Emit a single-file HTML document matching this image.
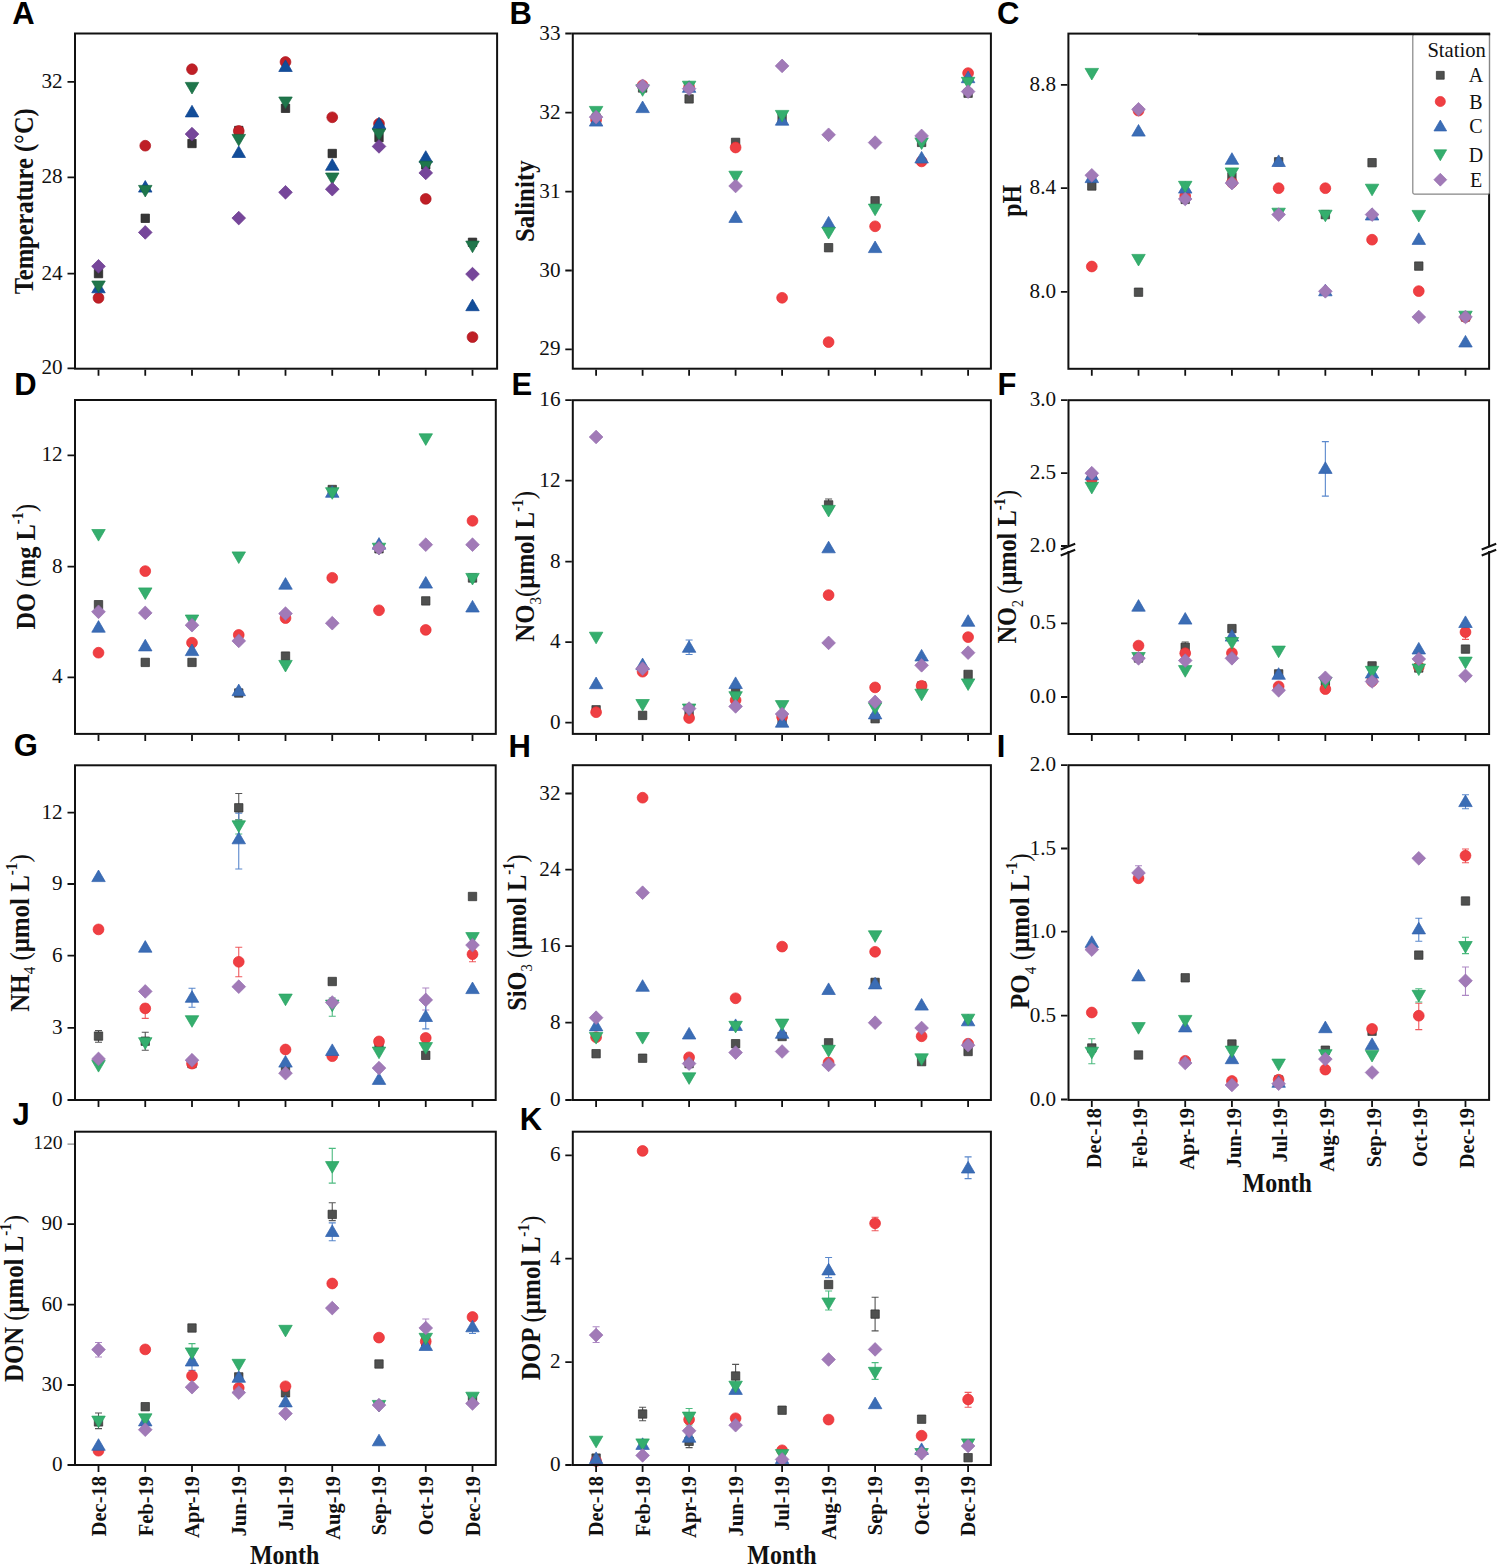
<!DOCTYPE html><html><head><meta charset="utf-8"><style>html,body{margin:0;padding:0;background:#fff;}svg{display:block;}.t{font-family:"Liberation Serif",serif;font-size:20px;fill:#111;}.tb{font-family:"Liberation Serif",serif;font-weight:bold;fill:#111;}.pl{font-family:"Liberation Sans",sans-serif;font-weight:bold;font-size:31px;fill:#000;}</style></head><body>
<svg width="1497" height="1565" viewBox="0 0 1497 1565">
<rect width="1497" height="1565" fill="#fff"/>
<rect x="94.3" y="269.4" width="8.4" height="8.4" fill="#363636" stroke="#202020" stroke-width="0.7" stroke-linejoin="round"/>
<circle cx="98.5" cy="297.9" r="5.4" fill="#bf1f26" stroke="#b0141c" stroke-width="0.7" stroke-linejoin="round"/>
<path d="M98.5 281.2L105.25 292.8L91.75 292.8Z" fill="#124d99" stroke="#0b4290" stroke-width="0.7" stroke-linejoin="round"/>
<path d="M91.75 281L105.25 281L98.5 292.6Z" fill="#1f764b" stroke="#156a40" stroke-width="0.7" stroke-linejoin="round"/>
<path d="M98.5 259.45L105.35 266.3L98.5 273.15L91.65 266.3Z" fill="#76469a" stroke="#6a3a8e" stroke-width="0.7" stroke-linejoin="round"/>
<rect x="141.05" y="214.1" width="8.4" height="8.4" fill="#363636" stroke="#202020" stroke-width="0.7" stroke-linejoin="round"/>
<circle cx="145.25" cy="145.7" r="5.4" fill="#bf1f26" stroke="#b0141c" stroke-width="0.7" stroke-linejoin="round"/>
<path d="M145.25 180.5L152 192.1L138.5 192.1Z" fill="#124d99" stroke="#0b4290" stroke-width="0.7" stroke-linejoin="round"/>
<path d="M138.5 185.4L152 185.4L145.25 197Z" fill="#1f764b" stroke="#156a40" stroke-width="0.7" stroke-linejoin="round"/>
<path d="M145.25 225.55L152.1 232.4L145.25 239.25L138.4 232.4Z" fill="#76469a" stroke="#6a3a8e" stroke-width="0.7" stroke-linejoin="round"/>
<rect x="187.8" y="139.3" width="8.4" height="8.4" fill="#363636" stroke="#202020" stroke-width="0.7" stroke-linejoin="round"/>
<circle cx="192" cy="69.2" r="5.4" fill="#bf1f26" stroke="#b0141c" stroke-width="0.7" stroke-linejoin="round"/>
<path d="M192 105.3L198.75 116.9L185.25 116.9Z" fill="#124d99" stroke="#0b4290" stroke-width="0.7" stroke-linejoin="round"/>
<path d="M185.25 82.4L198.75 82.4L192 94Z" fill="#1f764b" stroke="#156a40" stroke-width="0.7" stroke-linejoin="round"/>
<path d="M192 127.25L198.85 134.1L192 140.95L185.15 134.1Z" fill="#76469a" stroke="#6a3a8e" stroke-width="0.7" stroke-linejoin="round"/>
<rect x="234.55" y="126.3" width="8.4" height="8.4" fill="#363636" stroke="#202020" stroke-width="0.7" stroke-linejoin="round"/>
<circle cx="238.75" cy="131" r="5.4" fill="#bf1f26" stroke="#b0141c" stroke-width="0.7" stroke-linejoin="round"/>
<path d="M238.75 145.9L245.5 157.5L232 157.5Z" fill="#124d99" stroke="#0b4290" stroke-width="0.7" stroke-linejoin="round"/>
<path d="M232 134.4L245.5 134.4L238.75 146Z" fill="#1f764b" stroke="#156a40" stroke-width="0.7" stroke-linejoin="round"/>
<path d="M238.75 211.25L245.6 218.1L238.75 224.95L231.9 218.1Z" fill="#76469a" stroke="#6a3a8e" stroke-width="0.7" stroke-linejoin="round"/>
<rect x="281.3" y="104.1" width="8.4" height="8.4" fill="#363636" stroke="#202020" stroke-width="0.7" stroke-linejoin="round"/>
<circle cx="285.5" cy="62" r="5.4" fill="#bf1f26" stroke="#b0141c" stroke-width="0.7" stroke-linejoin="round"/>
<path d="M285.5 59.9L292.25 71.5L278.75 71.5Z" fill="#124d99" stroke="#0b4290" stroke-width="0.7" stroke-linejoin="round"/>
<path d="M278.75 97L292.25 97L285.5 108.6Z" fill="#1f764b" stroke="#156a40" stroke-width="0.7" stroke-linejoin="round"/>
<path d="M285.5 185.45L292.35 192.3L285.5 199.15L278.65 192.3Z" fill="#76469a" stroke="#6a3a8e" stroke-width="0.7" stroke-linejoin="round"/>
<rect x="328.05" y="149.3" width="8.4" height="8.4" fill="#363636" stroke="#202020" stroke-width="0.7" stroke-linejoin="round"/>
<circle cx="332.25" cy="117.3" r="5.4" fill="#bf1f26" stroke="#b0141c" stroke-width="0.7" stroke-linejoin="round"/>
<path d="M332.25 158.7L339 170.3L325.5 170.3Z" fill="#124d99" stroke="#0b4290" stroke-width="0.7" stroke-linejoin="round"/>
<path d="M325.5 173L339 173L332.25 184.6Z" fill="#1f764b" stroke="#156a40" stroke-width="0.7" stroke-linejoin="round"/>
<path d="M332.25 182.35L339.1 189.2L332.25 196.05L325.4 189.2Z" fill="#76469a" stroke="#6a3a8e" stroke-width="0.7" stroke-linejoin="round"/>
<rect x="374.8" y="133.4" width="8.4" height="8.4" fill="#363636" stroke="#202020" stroke-width="0.7" stroke-linejoin="round"/>
<circle cx="379" cy="123.7" r="5.4" fill="#bf1f26" stroke="#b0141c" stroke-width="0.7" stroke-linejoin="round"/>
<path d="M379 117.2L385.75 128.8L372.25 128.8Z" fill="#124d99" stroke="#0b4290" stroke-width="0.7" stroke-linejoin="round"/>
<path d="M372.25 128.9L385.75 128.9L379 140.5Z" fill="#1f764b" stroke="#156a40" stroke-width="0.7" stroke-linejoin="round"/>
<path d="M379 139.55L385.85 146.4L379 153.25L372.15 146.4Z" fill="#76469a" stroke="#6a3a8e" stroke-width="0.7" stroke-linejoin="round"/>
<rect x="421.55" y="160.7" width="8.4" height="8.4" fill="#363636" stroke="#202020" stroke-width="0.7" stroke-linejoin="round"/>
<circle cx="425.75" cy="198.9" r="5.4" fill="#bf1f26" stroke="#b0141c" stroke-width="0.7" stroke-linejoin="round"/>
<path d="M425.75 150.7L432.5 162.3L419 162.3Z" fill="#124d99" stroke="#0b4290" stroke-width="0.7" stroke-linejoin="round"/>
<path d="M419 161.2L432.5 161.2L425.75 172.8Z" fill="#1f764b" stroke="#156a40" stroke-width="0.7" stroke-linejoin="round"/>
<path d="M425.75 166.05L432.6 172.9L425.75 179.75L418.9 172.9Z" fill="#76469a" stroke="#6a3a8e" stroke-width="0.7" stroke-linejoin="round"/>
<rect x="468.3" y="238.1" width="8.4" height="8.4" fill="#363636" stroke="#202020" stroke-width="0.7" stroke-linejoin="round"/>
<circle cx="472.5" cy="337.1" r="5.4" fill="#bf1f26" stroke="#b0141c" stroke-width="0.7" stroke-linejoin="round"/>
<path d="M472.5 299.1L479.25 310.7L465.75 310.7Z" fill="#124d99" stroke="#0b4290" stroke-width="0.7" stroke-linejoin="round"/>
<path d="M465.75 241.1L479.25 241.1L472.5 252.7Z" fill="#1f764b" stroke="#156a40" stroke-width="0.7" stroke-linejoin="round"/>
<path d="M472.5 267.25L479.35 274.1L472.5 280.95L465.65 274.1Z" fill="#76469a" stroke="#6a3a8e" stroke-width="0.7" stroke-linejoin="round"/>
<rect x="75" y="33.5" width="422.1" height="335.2" fill="none" stroke="#111" stroke-width="2"/>
<path d="M98.5 369.7V375.7M145.25 369.7V375.7M192 369.7V375.7M238.75 369.7V375.7M285.5 369.7V375.7M332.25 369.7V375.7M379 369.7V375.7M425.75 369.7V375.7M472.5 369.7V375.7M67.5 368.4H74M67.5 273.6H74M67.5 177.3H74M67.5 81.8H74" stroke="#111" stroke-width="1.8" fill="none"/>
<text class="t" transform="translate(62.7 374.4) scale(1.06 1)" text-anchor="end">20</text>
<text class="t" transform="translate(62.7 279.6) scale(1.06 1)" text-anchor="end">24</text>
<text class="t" transform="translate(62.7 183.3) scale(1.06 1)" text-anchor="end">28</text>
<text class="t" transform="translate(62.7 87.8) scale(1.06 1)" text-anchor="end">32</text>
<text class="tb" font-size="24" text-anchor="middle" transform="translate(32.6 201.3) rotate(-90) scale(1 1.13)" x="0" y="0" textLength="186.1" lengthAdjust="spacingAndGlyphs"><tspan>Temperature (°C)</tspan></text>
<text class="pl" x="12.2" y="24">A</text>
<rect x="591.9" y="113.8" width="8.4" height="8.4" fill="#4f504f" stroke="#2e2e2e" stroke-width="0.7" stroke-linejoin="round"/>
<circle cx="596.1" cy="120" r="5.4" fill="#ef3f43" stroke="#e92a2e" stroke-width="0.7" stroke-linejoin="round"/>
<path d="M596.1 114.5L602.85 126.1L589.35 126.1Z" fill="#3b6db5" stroke="#2f60ae" stroke-width="0.7" stroke-linejoin="round"/>
<path d="M589.35 106.4L602.85 106.4L596.1 118Z" fill="#35ae6e" stroke="#27a460" stroke-width="0.7" stroke-linejoin="round"/>
<path d="M596.1 110.25L602.95 117.1L596.1 123.95L589.25 117.1Z" fill="#a17ab7" stroke="#9670b0" stroke-width="0.7" stroke-linejoin="round"/>
<rect x="638.4" y="83.8" width="8.4" height="8.4" fill="#4f504f" stroke="#2e2e2e" stroke-width="0.7" stroke-linejoin="round"/>
<circle cx="642.6" cy="85.4" r="5.4" fill="#ef3f43" stroke="#e92a2e" stroke-width="0.7" stroke-linejoin="round"/>
<path d="M642.6 101L649.35 112.6L635.85 112.6Z" fill="#3b6db5" stroke="#2f60ae" stroke-width="0.7" stroke-linejoin="round"/>
<path d="M635.85 84.7L649.35 84.7L642.6 96.3Z" fill="#35ae6e" stroke="#27a460" stroke-width="0.7" stroke-linejoin="round"/>
<path d="M642.6 78.95L649.45 85.8L642.6 92.65L635.75 85.8Z" fill="#a17ab7" stroke="#9670b0" stroke-width="0.7" stroke-linejoin="round"/>
<rect x="684.9" y="94.7" width="8.4" height="8.4" fill="#4f504f" stroke="#2e2e2e" stroke-width="0.7" stroke-linejoin="round"/>
<circle cx="689.1" cy="87" r="5.4" fill="#ef3f43" stroke="#e92a2e" stroke-width="0.7" stroke-linejoin="round"/>
<path d="M689.1 80.7L695.85 92.3L682.35 92.3Z" fill="#3b6db5" stroke="#2f60ae" stroke-width="0.7" stroke-linejoin="round"/>
<path d="M682.35 81.2L695.85 81.2L689.1 92.8Z" fill="#35ae6e" stroke="#27a460" stroke-width="0.7" stroke-linejoin="round"/>
<path d="M689.1 81.85L695.95 88.7L689.1 95.55L682.25 88.7Z" fill="#a17ab7" stroke="#9670b0" stroke-width="0.7" stroke-linejoin="round"/>
<rect x="731.4" y="138.2" width="8.4" height="8.4" fill="#4f504f" stroke="#2e2e2e" stroke-width="0.7" stroke-linejoin="round"/>
<circle cx="735.6" cy="147.5" r="5.4" fill="#ef3f43" stroke="#e92a2e" stroke-width="0.7" stroke-linejoin="round"/>
<path d="M735.6 210.8L742.35 222.4L728.85 222.4Z" fill="#3b6db5" stroke="#2f60ae" stroke-width="0.7" stroke-linejoin="round"/>
<path d="M728.85 171.2L742.35 171.2L735.6 182.8Z" fill="#35ae6e" stroke="#27a460" stroke-width="0.7" stroke-linejoin="round"/>
<path d="M735.6 179.15L742.45 186L735.6 192.85L728.75 186Z" fill="#a17ab7" stroke="#9670b0" stroke-width="0.7" stroke-linejoin="round"/>
<rect x="777.9" y="113.6" width="8.4" height="8.4" fill="#4f504f" stroke="#2e2e2e" stroke-width="0.7" stroke-linejoin="round"/>
<circle cx="782.1" cy="297.8" r="5.4" fill="#ef3f43" stroke="#e92a2e" stroke-width="0.7" stroke-linejoin="round"/>
<path d="M782.1 113.6L788.85 125.2L775.35 125.2Z" fill="#3b6db5" stroke="#2f60ae" stroke-width="0.7" stroke-linejoin="round"/>
<path d="M775.35 110.4L788.85 110.4L782.1 122Z" fill="#35ae6e" stroke="#27a460" stroke-width="0.7" stroke-linejoin="round"/>
<path d="M782.1 59.05L788.95 65.9L782.1 72.75L775.25 65.9Z" fill="#a17ab7" stroke="#9670b0" stroke-width="0.7" stroke-linejoin="round"/>
<rect x="824.4" y="243.5" width="8.4" height="8.4" fill="#4f504f" stroke="#2e2e2e" stroke-width="0.7" stroke-linejoin="round"/>
<circle cx="828.6" cy="342.1" r="5.4" fill="#ef3f43" stroke="#e92a2e" stroke-width="0.7" stroke-linejoin="round"/>
<path d="M828.6 216.4L835.35 228L821.85 228Z" fill="#3b6db5" stroke="#2f60ae" stroke-width="0.7" stroke-linejoin="round"/>
<path d="M821.85 227.4L835.35 227.4L828.6 239Z" fill="#35ae6e" stroke="#27a460" stroke-width="0.7" stroke-linejoin="round"/>
<path d="M828.6 127.95L835.45 134.8L828.6 141.65L821.75 134.8Z" fill="#a17ab7" stroke="#9670b0" stroke-width="0.7" stroke-linejoin="round"/>
<rect x="870.9" y="196.6" width="8.4" height="8.4" fill="#4f504f" stroke="#2e2e2e" stroke-width="0.7" stroke-linejoin="round"/>
<circle cx="875.1" cy="226.3" r="5.4" fill="#ef3f43" stroke="#e92a2e" stroke-width="0.7" stroke-linejoin="round"/>
<path d="M875.1 241L881.85 252.6L868.35 252.6Z" fill="#3b6db5" stroke="#2f60ae" stroke-width="0.7" stroke-linejoin="round"/>
<path d="M868.35 204.1L881.85 204.1L875.1 215.7Z" fill="#35ae6e" stroke="#27a460" stroke-width="0.7" stroke-linejoin="round"/>
<path d="M875.1 135.75L881.95 142.6L875.1 149.45L868.25 142.6Z" fill="#a17ab7" stroke="#9670b0" stroke-width="0.7" stroke-linejoin="round"/>
<rect x="917.4" y="138.2" width="8.4" height="8.4" fill="#4f504f" stroke="#2e2e2e" stroke-width="0.7" stroke-linejoin="round"/>
<circle cx="921.6" cy="161.4" r="5.4" fill="#ef3f43" stroke="#e92a2e" stroke-width="0.7" stroke-linejoin="round"/>
<path d="M921.6 151.4L928.35 163L914.85 163Z" fill="#3b6db5" stroke="#2f60ae" stroke-width="0.7" stroke-linejoin="round"/>
<path d="M914.85 137.9L928.35 137.9L921.6 149.5Z" fill="#35ae6e" stroke="#27a460" stroke-width="0.7" stroke-linejoin="round"/>
<path d="M921.6 129.05L928.45 135.9L921.6 142.75L914.75 135.9Z" fill="#a17ab7" stroke="#9670b0" stroke-width="0.7" stroke-linejoin="round"/>
<rect x="963.9" y="89" width="8.4" height="8.4" fill="#4f504f" stroke="#2e2e2e" stroke-width="0.7" stroke-linejoin="round"/>
<circle cx="968.1" cy="73.1" r="5.4" fill="#ef3f43" stroke="#e92a2e" stroke-width="0.7" stroke-linejoin="round"/>
<path d="M968.1 71.1L974.85 82.7L961.35 82.7Z" fill="#3b6db5" stroke="#2f60ae" stroke-width="0.7" stroke-linejoin="round"/>
<path d="M961.35 77.3L974.85 77.3L968.1 88.9Z" fill="#35ae6e" stroke="#27a460" stroke-width="0.7" stroke-linejoin="round"/>
<path d="M968.1 84.75L974.95 91.6L968.1 98.45L961.25 91.6Z" fill="#a17ab7" stroke="#9670b0" stroke-width="0.7" stroke-linejoin="round"/>
<rect x="572.8" y="33.5" width="418.1" height="335.2" fill="none" stroke="#111" stroke-width="2"/>
<path d="M596.1 369.7V375.7M642.6 369.7V375.7M689.1 369.7V375.7M735.6 369.7V375.7M782.1 369.7V375.7M828.6 369.7V375.7M875.1 369.7V375.7M921.6 369.7V375.7M968.1 369.7V375.7M565.3 349.3H571.8M565.3 270.5H571.8M565.3 191.6H571.8M565.3 112.7H571.8M565.3 33.5H571.8" stroke="#111" stroke-width="1.8" fill="none"/>
<text class="t" transform="translate(560.5 355.3) scale(1.06 1)" text-anchor="end">29</text>
<text class="t" transform="translate(560.5 276.5) scale(1.06 1)" text-anchor="end">30</text>
<text class="t" transform="translate(560.5 197.6) scale(1.06 1)" text-anchor="end">31</text>
<text class="t" transform="translate(560.5 118.7) scale(1.06 1)" text-anchor="end">32</text>
<text class="t" transform="translate(560.5 39.5) scale(1.06 1)" text-anchor="end">33</text>
<text class="tb" font-size="24" text-anchor="middle" transform="translate(533.5 201.2) rotate(-90) scale(1 1.13)" x="0" y="0" textLength="81.6" lengthAdjust="spacingAndGlyphs"><tspan>Salinity</tspan></text>
<text class="pl" x="509.6" y="24">B</text>
<rect x="1087.6" y="181.8" width="8.4" height="8.4" fill="#4f504f" stroke="#2e2e2e" stroke-width="0.7" stroke-linejoin="round"/>
<circle cx="1091.8" cy="266.5" r="5.4" fill="#ef3f43" stroke="#e92a2e" stroke-width="0.7" stroke-linejoin="round"/>
<path d="M1091.8 171L1098.55 182.6L1085.05 182.6Z" fill="#3b6db5" stroke="#2f60ae" stroke-width="0.7" stroke-linejoin="round"/>
<path d="M1085.05 68.4L1098.55 68.4L1091.8 80Z" fill="#35ae6e" stroke="#27a460" stroke-width="0.7" stroke-linejoin="round"/>
<path d="M1091.8 168.45L1098.65 175.3L1091.8 182.15L1084.95 175.3Z" fill="#a17ab7" stroke="#9670b0" stroke-width="0.7" stroke-linejoin="round"/>
<rect x="1134.31" y="288" width="8.4" height="8.4" fill="#4f504f" stroke="#2e2e2e" stroke-width="0.7" stroke-linejoin="round"/>
<circle cx="1138.51" cy="110.6" r="5.4" fill="#ef3f43" stroke="#e92a2e" stroke-width="0.7" stroke-linejoin="round"/>
<path d="M1138.51 124.5L1145.26 136.1L1131.76 136.1Z" fill="#3b6db5" stroke="#2f60ae" stroke-width="0.7" stroke-linejoin="round"/>
<path d="M1131.76 254.4L1145.26 254.4L1138.51 266Z" fill="#35ae6e" stroke="#27a460" stroke-width="0.7" stroke-linejoin="round"/>
<path d="M1138.51 102.45L1145.36 109.3L1138.51 116.15L1131.66 109.3Z" fill="#a17ab7" stroke="#9670b0" stroke-width="0.7" stroke-linejoin="round"/>
<rect x="1181.02" y="195.2" width="8.4" height="8.4" fill="#4f504f" stroke="#2e2e2e" stroke-width="0.7" stroke-linejoin="round"/>
<circle cx="1185.22" cy="196.1" r="5.4" fill="#ef3f43" stroke="#e92a2e" stroke-width="0.7" stroke-linejoin="round"/>
<path d="M1185.22 181.5L1191.97 193.1L1178.47 193.1Z" fill="#3b6db5" stroke="#2f60ae" stroke-width="0.7" stroke-linejoin="round"/>
<path d="M1178.47 181.3L1191.97 181.3L1185.22 192.9Z" fill="#35ae6e" stroke="#27a460" stroke-width="0.7" stroke-linejoin="round"/>
<path d="M1185.22 192.15L1192.07 199L1185.22 205.85L1178.37 199Z" fill="#a17ab7" stroke="#9670b0" stroke-width="0.7" stroke-linejoin="round"/>
<rect x="1227.73" y="172.8" width="8.4" height="8.4" fill="#4f504f" stroke="#2e2e2e" stroke-width="0.7" stroke-linejoin="round"/>
<circle cx="1231.93" cy="182.6" r="5.4" fill="#ef3f43" stroke="#e92a2e" stroke-width="0.7" stroke-linejoin="round"/>
<path d="M1231.93 152.7L1238.68 164.3L1225.18 164.3Z" fill="#3b6db5" stroke="#2f60ae" stroke-width="0.7" stroke-linejoin="round"/>
<path d="M1225.18 167.9L1238.68 167.9L1231.93 179.5Z" fill="#35ae6e" stroke="#27a460" stroke-width="0.7" stroke-linejoin="round"/>
<path d="M1231.93 176.25L1238.78 183.1L1231.93 189.95L1225.08 183.1Z" fill="#a17ab7" stroke="#9670b0" stroke-width="0.7" stroke-linejoin="round"/>
<rect x="1274.44" y="157.6" width="8.4" height="8.4" fill="#4f504f" stroke="#2e2e2e" stroke-width="0.7" stroke-linejoin="round"/>
<circle cx="1278.64" cy="188.2" r="5.4" fill="#ef3f43" stroke="#e92a2e" stroke-width="0.7" stroke-linejoin="round"/>
<path d="M1278.64 154.9L1285.39 166.5L1271.89 166.5Z" fill="#3b6db5" stroke="#2f60ae" stroke-width="0.7" stroke-linejoin="round"/>
<path d="M1271.89 208.2L1285.39 208.2L1278.64 219.8Z" fill="#35ae6e" stroke="#27a460" stroke-width="0.7" stroke-linejoin="round"/>
<path d="M1278.64 207.75L1285.49 214.6L1278.64 221.45L1271.79 214.6Z" fill="#a17ab7" stroke="#9670b0" stroke-width="0.7" stroke-linejoin="round"/>
<rect x="1321.15" y="210.4" width="8.4" height="8.4" fill="#4f504f" stroke="#2e2e2e" stroke-width="0.7" stroke-linejoin="round"/>
<circle cx="1325.35" cy="188.2" r="5.4" fill="#ef3f43" stroke="#e92a2e" stroke-width="0.7" stroke-linejoin="round"/>
<path d="M1325.35 284.2L1332.1 295.8L1318.6 295.8Z" fill="#3b6db5" stroke="#2f60ae" stroke-width="0.7" stroke-linejoin="round"/>
<path d="M1318.6 210.2L1332.1 210.2L1325.35 221.8Z" fill="#35ae6e" stroke="#27a460" stroke-width="0.7" stroke-linejoin="round"/>
<path d="M1325.35 284.45L1332.2 291.3L1325.35 298.15L1318.5 291.3Z" fill="#a17ab7" stroke="#9670b0" stroke-width="0.7" stroke-linejoin="round"/>
<rect x="1367.86" y="158.5" width="8.4" height="8.4" fill="#4f504f" stroke="#2e2e2e" stroke-width="0.7" stroke-linejoin="round"/>
<circle cx="1372.06" cy="239.7" r="5.4" fill="#ef3f43" stroke="#e92a2e" stroke-width="0.7" stroke-linejoin="round"/>
<path d="M1372.06 208.4L1378.81 220L1365.31 220Z" fill="#3b6db5" stroke="#2f60ae" stroke-width="0.7" stroke-linejoin="round"/>
<path d="M1365.31 184.2L1378.81 184.2L1372.06 195.8Z" fill="#35ae6e" stroke="#27a460" stroke-width="0.7" stroke-linejoin="round"/>
<path d="M1372.06 207.75L1378.91 214.6L1372.06 221.45L1365.21 214.6Z" fill="#a17ab7" stroke="#9670b0" stroke-width="0.7" stroke-linejoin="round"/>
<rect x="1414.57" y="261.9" width="8.4" height="8.4" fill="#4f504f" stroke="#2e2e2e" stroke-width="0.7" stroke-linejoin="round"/>
<circle cx="1418.77" cy="291.1" r="5.4" fill="#ef3f43" stroke="#e92a2e" stroke-width="0.7" stroke-linejoin="round"/>
<path d="M1418.77 232.8L1425.52 244.4L1412.02 244.4Z" fill="#3b6db5" stroke="#2f60ae" stroke-width="0.7" stroke-linejoin="round"/>
<path d="M1412.02 210.4L1425.52 210.4L1418.77 222Z" fill="#35ae6e" stroke="#27a460" stroke-width="0.7" stroke-linejoin="round"/>
<path d="M1418.77 310.15L1425.62 317L1418.77 323.85L1411.92 317Z" fill="#a17ab7" stroke="#9670b0" stroke-width="0.7" stroke-linejoin="round"/>
<rect x="1461.28" y="312.8" width="8.4" height="8.4" fill="#4f504f" stroke="#2e2e2e" stroke-width="0.7" stroke-linejoin="round"/>
<circle cx="1465.48" cy="317" r="5.4" fill="#ef3f43" stroke="#e92a2e" stroke-width="0.7" stroke-linejoin="round"/>
<path d="M1465.48 335.4L1472.23 347L1458.73 347Z" fill="#3b6db5" stroke="#2f60ae" stroke-width="0.7" stroke-linejoin="round"/>
<path d="M1458.73 311.2L1472.23 311.2L1465.48 322.8Z" fill="#35ae6e" stroke="#27a460" stroke-width="0.7" stroke-linejoin="round"/>
<path d="M1465.48 310.15L1472.33 317L1465.48 323.85L1458.63 317Z" fill="#a17ab7" stroke="#9670b0" stroke-width="0.7" stroke-linejoin="round"/>
<rect x="1068.4" y="33.6" width="420.7" height="335.2" fill="none" stroke="#111" stroke-width="2"/>
<path d="M1091.8 369.8V375.8M1138.51 369.8V375.8M1185.22 369.8V375.8M1231.93 369.8V375.8M1278.64 369.8V375.8M1325.35 369.8V375.8M1372.06 369.8V375.8M1418.77 369.8V375.8M1465.48 369.8V375.8M1060.9 291.8H1067.4M1060.9 188.2H1067.4M1060.9 84.9H1067.4" stroke="#111" stroke-width="1.8" fill="none"/>
<text class="t" transform="translate(1056.1 297.8) scale(1.06 1)" text-anchor="end">8.0</text>
<text class="t" transform="translate(1056.1 194.2) scale(1.06 1)" text-anchor="end">8.4</text>
<text class="t" transform="translate(1056.1 90.9) scale(1.06 1)" text-anchor="end">8.8</text>
<text class="tb" font-size="24" text-anchor="middle" transform="translate(1020.5 200.8) rotate(-90) scale(1 1.13)" x="0" y="0" textLength="31.8" lengthAdjust="spacingAndGlyphs"><tspan>pH</tspan></text>
<text class="pl" x="997.1" y="24.3">C</text>
<rect x="94.3" y="600.5" width="8.4" height="8.4" fill="#4f504f" stroke="#2e2e2e" stroke-width="0.7" stroke-linejoin="round"/>
<circle cx="98.5" cy="652.7" r="5.4" fill="#ef3f43" stroke="#e92a2e" stroke-width="0.7" stroke-linejoin="round"/>
<path d="M98.5 620.6L105.25 632.2L91.75 632.2Z" fill="#3b6db5" stroke="#2f60ae" stroke-width="0.7" stroke-linejoin="round"/>
<path d="M91.75 529.5L105.25 529.5L98.5 541.1Z" fill="#35ae6e" stroke="#27a460" stroke-width="0.7" stroke-linejoin="round"/>
<path d="M98.5 604.95L105.35 611.8L98.5 618.65L91.65 611.8Z" fill="#a17ab7" stroke="#9670b0" stroke-width="0.7" stroke-linejoin="round"/>
<rect x="141.05" y="658.2" width="8.4" height="8.4" fill="#4f504f" stroke="#2e2e2e" stroke-width="0.7" stroke-linejoin="round"/>
<circle cx="145.25" cy="571.1" r="5.4" fill="#ef3f43" stroke="#e92a2e" stroke-width="0.7" stroke-linejoin="round"/>
<path d="M145.25 639.3L152 650.9L138.5 650.9Z" fill="#3b6db5" stroke="#2f60ae" stroke-width="0.7" stroke-linejoin="round"/>
<path d="M138.5 587.9L152 587.9L145.25 599.5Z" fill="#35ae6e" stroke="#27a460" stroke-width="0.7" stroke-linejoin="round"/>
<path d="M145.25 606.05L152.1 612.9L145.25 619.75L138.4 612.9Z" fill="#a17ab7" stroke="#9670b0" stroke-width="0.7" stroke-linejoin="round"/>
<rect x="187.8" y="658.2" width="8.4" height="8.4" fill="#4f504f" stroke="#2e2e2e" stroke-width="0.7" stroke-linejoin="round"/>
<circle cx="192" cy="642.7" r="5.4" fill="#ef3f43" stroke="#e92a2e" stroke-width="0.7" stroke-linejoin="round"/>
<path d="M192 644L198.75 655.6L185.25 655.6Z" fill="#3b6db5" stroke="#2f60ae" stroke-width="0.7" stroke-linejoin="round"/>
<path d="M185.25 615L198.75 615L192 626.6Z" fill="#35ae6e" stroke="#27a460" stroke-width="0.7" stroke-linejoin="round"/>
<path d="M192 618.35L198.85 625.2L192 632.05L185.15 625.2Z" fill="#a17ab7" stroke="#9670b0" stroke-width="0.7" stroke-linejoin="round"/>
<rect x="234.55" y="688.8" width="8.4" height="8.4" fill="#4f504f" stroke="#2e2e2e" stroke-width="0.7" stroke-linejoin="round"/>
<circle cx="238.75" cy="634.9" r="5.4" fill="#ef3f43" stroke="#e92a2e" stroke-width="0.7" stroke-linejoin="round"/>
<path d="M238.75 684.1L245.5 695.7L232 695.7Z" fill="#3b6db5" stroke="#2f60ae" stroke-width="0.7" stroke-linejoin="round"/>
<path d="M232 551.9L245.5 551.9L238.75 563.5Z" fill="#35ae6e" stroke="#27a460" stroke-width="0.7" stroke-linejoin="round"/>
<path d="M238.75 634.05L245.6 640.9L238.75 647.75L231.9 640.9Z" fill="#a17ab7" stroke="#9670b0" stroke-width="0.7" stroke-linejoin="round"/>
<rect x="281.3" y="651.9" width="8.4" height="8.4" fill="#4f504f" stroke="#2e2e2e" stroke-width="0.7" stroke-linejoin="round"/>
<circle cx="285.5" cy="618.1" r="5.4" fill="#ef3f43" stroke="#e92a2e" stroke-width="0.7" stroke-linejoin="round"/>
<path d="M285.5 577.6L292.25 589.2L278.75 589.2Z" fill="#3b6db5" stroke="#2f60ae" stroke-width="0.7" stroke-linejoin="round"/>
<path d="M278.75 660.4L292.25 660.4L285.5 672Z" fill="#35ae6e" stroke="#27a460" stroke-width="0.7" stroke-linejoin="round"/>
<path d="M285.5 606.75L292.35 613.6L285.5 620.45L278.65 613.6Z" fill="#a17ab7" stroke="#9670b0" stroke-width="0.7" stroke-linejoin="round"/>
<rect x="328.05" y="485.3" width="8.4" height="8.4" fill="#4f504f" stroke="#2e2e2e" stroke-width="0.7" stroke-linejoin="round"/>
<circle cx="332.25" cy="577.8" r="5.4" fill="#ef3f43" stroke="#e92a2e" stroke-width="0.7" stroke-linejoin="round"/>
<path d="M332.25 485.7L339 497.3L325.5 497.3Z" fill="#3b6db5" stroke="#2f60ae" stroke-width="0.7" stroke-linejoin="round"/>
<path d="M325.5 487.7L339 487.7L332.25 499.3Z" fill="#35ae6e" stroke="#27a460" stroke-width="0.7" stroke-linejoin="round"/>
<path d="M332.25 616.35L339.1 623.2L332.25 630.05L325.4 623.2Z" fill="#a17ab7" stroke="#9670b0" stroke-width="0.7" stroke-linejoin="round"/>
<rect x="374.8" y="544.6" width="8.4" height="8.4" fill="#4f504f" stroke="#2e2e2e" stroke-width="0.7" stroke-linejoin="round"/>
<circle cx="379" cy="610.3" r="5.4" fill="#ef3f43" stroke="#e92a2e" stroke-width="0.7" stroke-linejoin="round"/>
<path d="M379 537.6L385.75 549.2L372.25 549.2Z" fill="#3b6db5" stroke="#2f60ae" stroke-width="0.7" stroke-linejoin="round"/>
<path d="M372.25 543.2L385.75 543.2L379 554.8Z" fill="#35ae6e" stroke="#27a460" stroke-width="0.7" stroke-linejoin="round"/>
<path d="M379 541.25L385.85 548.1L379 554.95L372.15 548.1Z" fill="#a17ab7" stroke="#9670b0" stroke-width="0.7" stroke-linejoin="round"/>
<rect x="421.55" y="596.7" width="8.4" height="8.4" fill="#4f504f" stroke="#2e2e2e" stroke-width="0.7" stroke-linejoin="round"/>
<circle cx="425.75" cy="629.9" r="5.4" fill="#ef3f43" stroke="#e92a2e" stroke-width="0.7" stroke-linejoin="round"/>
<path d="M425.75 576.5L432.5 588.1L419 588.1Z" fill="#3b6db5" stroke="#2f60ae" stroke-width="0.7" stroke-linejoin="round"/>
<path d="M419 433.8L432.5 433.8L425.75 445.4Z" fill="#35ae6e" stroke="#27a460" stroke-width="0.7" stroke-linejoin="round"/>
<path d="M425.75 537.85L432.6 544.7L425.75 551.55L418.9 544.7Z" fill="#a17ab7" stroke="#9670b0" stroke-width="0.7" stroke-linejoin="round"/>
<rect x="468.3" y="573.8" width="8.4" height="8.4" fill="#4f504f" stroke="#2e2e2e" stroke-width="0.7" stroke-linejoin="round"/>
<circle cx="472.5" cy="520.8" r="5.4" fill="#ef3f43" stroke="#e92a2e" stroke-width="0.7" stroke-linejoin="round"/>
<path d="M472.5 600.4L479.25 612L465.75 612Z" fill="#3b6db5" stroke="#2f60ae" stroke-width="0.7" stroke-linejoin="round"/>
<path d="M465.75 573.4L479.25 573.4L472.5 585Z" fill="#35ae6e" stroke="#27a460" stroke-width="0.7" stroke-linejoin="round"/>
<path d="M472.5 537.85L479.35 544.7L472.5 551.55L465.65 544.7Z" fill="#a17ab7" stroke="#9670b0" stroke-width="0.7" stroke-linejoin="round"/>
<rect x="75" y="400" width="420.8" height="333.9" fill="none" stroke="#111" stroke-width="2"/>
<path d="M98.5 734.9V740.9M145.25 734.9V740.9M192 734.9V740.9M238.75 734.9V740.9M285.5 734.9V740.9M332.25 734.9V740.9M379 734.9V740.9M425.75 734.9V740.9M472.5 734.9V740.9M67.5 677.3H74M67.5 566.7H74M67.5 455.3H74" stroke="#111" stroke-width="1.8" fill="none"/>
<text class="t" transform="translate(62.7 683.3) scale(1.06 1)" text-anchor="end">4</text>
<text class="t" transform="translate(62.7 572.7) scale(1.06 1)" text-anchor="end">8</text>
<text class="t" transform="translate(62.7 461.3) scale(1.06 1)" text-anchor="end">12</text>
<text class="tb" font-size="24" text-anchor="middle" transform="translate(34.5 566.8) rotate(-90) scale(1 1.13)" x="0" y="0" textLength="125.6" lengthAdjust="spacingAndGlyphs"><tspan>DO </tspan><tspan font-weight="normal">(</tspan><tspan>mg L</tspan><tspan font-size="14.5" dy="-10.2">-1</tspan><tspan font-weight="normal" dy="10.2">)</tspan></text>
<text class="pl" x="14.2" y="394.8">D</text>
<path d="M689.1 640V654.5M685.6 640H692.6M685.6 654.5H692.6" stroke="#5a88cc" stroke-width="1.1" fill="none"/>
<path d="M828.6 499V511M825.1 499H832.1M825.1 511H832.1" stroke="#555555" stroke-width="1.1" fill="none"/>
<rect x="591.9" y="705.6" width="8.4" height="8.4" fill="#4f504f" stroke="#2e2e2e" stroke-width="0.7" stroke-linejoin="round"/>
<circle cx="596.1" cy="712.2" r="5.4" fill="#ef3f43" stroke="#e92a2e" stroke-width="0.7" stroke-linejoin="round"/>
<path d="M596.1 677.1L602.85 688.7L589.35 688.7Z" fill="#3b6db5" stroke="#2f60ae" stroke-width="0.7" stroke-linejoin="round"/>
<path d="M589.35 632.2L602.85 632.2L596.1 643.8Z" fill="#35ae6e" stroke="#27a460" stroke-width="0.7" stroke-linejoin="round"/>
<path d="M596.1 430.15L602.95 437L596.1 443.85L589.25 437Z" fill="#a17ab7" stroke="#9670b0" stroke-width="0.7" stroke-linejoin="round"/>
<rect x="638.4" y="711.2" width="8.4" height="8.4" fill="#4f504f" stroke="#2e2e2e" stroke-width="0.7" stroke-linejoin="round"/>
<circle cx="642.6" cy="671.7" r="5.4" fill="#ef3f43" stroke="#e92a2e" stroke-width="0.7" stroke-linejoin="round"/>
<path d="M642.6 658.1L649.35 669.7L635.85 669.7Z" fill="#3b6db5" stroke="#2f60ae" stroke-width="0.7" stroke-linejoin="round"/>
<path d="M635.85 699.5L649.35 699.5L642.6 711.1Z" fill="#35ae6e" stroke="#27a460" stroke-width="0.7" stroke-linejoin="round"/>
<path d="M642.6 661.75L649.45 668.6L642.6 675.45L635.75 668.6Z" fill="#a17ab7" stroke="#9670b0" stroke-width="0.7" stroke-linejoin="round"/>
<rect x="684.9" y="707.8" width="8.4" height="8.4" fill="#4f504f" stroke="#2e2e2e" stroke-width="0.7" stroke-linejoin="round"/>
<circle cx="689.1" cy="718" r="5.4" fill="#ef3f43" stroke="#e92a2e" stroke-width="0.7" stroke-linejoin="round"/>
<path d="M689.1 640.7L695.85 652.3L682.35 652.3Z" fill="#3b6db5" stroke="#2f60ae" stroke-width="0.7" stroke-linejoin="round"/>
<path d="M682.35 704L695.85 704L689.1 715.6Z" fill="#35ae6e" stroke="#27a460" stroke-width="0.7" stroke-linejoin="round"/>
<path d="M689.1 701.75L695.95 708.6L689.1 715.45L682.25 708.6Z" fill="#a17ab7" stroke="#9670b0" stroke-width="0.7" stroke-linejoin="round"/>
<rect x="731.4" y="687.7" width="8.4" height="8.4" fill="#4f504f" stroke="#2e2e2e" stroke-width="0.7" stroke-linejoin="round"/>
<circle cx="735.6" cy="700.2" r="5.4" fill="#ef3f43" stroke="#e92a2e" stroke-width="0.7" stroke-linejoin="round"/>
<path d="M735.6 676.9L742.35 688.5L728.85 688.5Z" fill="#3b6db5" stroke="#2f60ae" stroke-width="0.7" stroke-linejoin="round"/>
<path d="M728.85 691.7L742.35 691.7L735.6 703.3Z" fill="#35ae6e" stroke="#27a460" stroke-width="0.7" stroke-linejoin="round"/>
<path d="M735.6 699.55L742.45 706.4L735.6 713.25L728.75 706.4Z" fill="#a17ab7" stroke="#9670b0" stroke-width="0.7" stroke-linejoin="round"/>
<rect x="777.9" y="715.8" width="8.4" height="8.4" fill="#4f504f" stroke="#2e2e2e" stroke-width="0.7" stroke-linejoin="round"/>
<circle cx="782.1" cy="716.9" r="5.4" fill="#ef3f43" stroke="#e92a2e" stroke-width="0.7" stroke-linejoin="round"/>
<path d="M782.1 715.6L788.85 727.2L775.35 727.2Z" fill="#3b6db5" stroke="#2f60ae" stroke-width="0.7" stroke-linejoin="round"/>
<path d="M775.35 700.6L788.85 700.6L782.1 712.2Z" fill="#35ae6e" stroke="#27a460" stroke-width="0.7" stroke-linejoin="round"/>
<path d="M782.1 707.15L788.95 714L782.1 720.85L775.25 714Z" fill="#a17ab7" stroke="#9670b0" stroke-width="0.7" stroke-linejoin="round"/>
<rect x="824.4" y="500.7" width="8.4" height="8.4" fill="#4f504f" stroke="#2e2e2e" stroke-width="0.7" stroke-linejoin="round"/>
<circle cx="828.6" cy="595.1" r="5.4" fill="#ef3f43" stroke="#e92a2e" stroke-width="0.7" stroke-linejoin="round"/>
<path d="M828.6 541.2L835.35 552.8L821.85 552.8Z" fill="#3b6db5" stroke="#2f60ae" stroke-width="0.7" stroke-linejoin="round"/>
<path d="M821.85 505.4L835.35 505.4L828.6 517Z" fill="#35ae6e" stroke="#27a460" stroke-width="0.7" stroke-linejoin="round"/>
<path d="M828.6 636.05L835.45 642.9L828.6 649.75L821.75 642.9Z" fill="#a17ab7" stroke="#9670b0" stroke-width="0.7" stroke-linejoin="round"/>
<rect x="870.9" y="714.5" width="8.4" height="8.4" fill="#4f504f" stroke="#2e2e2e" stroke-width="0.7" stroke-linejoin="round"/>
<circle cx="875.1" cy="687.4" r="5.4" fill="#ef3f43" stroke="#e92a2e" stroke-width="0.7" stroke-linejoin="round"/>
<path d="M875.1 707.3L881.85 718.9L868.35 718.9Z" fill="#3b6db5" stroke="#2f60ae" stroke-width="0.7" stroke-linejoin="round"/>
<path d="M868.35 702.8L881.85 702.8L875.1 714.4Z" fill="#35ae6e" stroke="#27a460" stroke-width="0.7" stroke-linejoin="round"/>
<path d="M875.1 695.05L881.95 701.9L875.1 708.75L868.25 701.9Z" fill="#a17ab7" stroke="#9670b0" stroke-width="0.7" stroke-linejoin="round"/>
<rect x="917.4" y="681.8" width="8.4" height="8.4" fill="#4f504f" stroke="#2e2e2e" stroke-width="0.7" stroke-linejoin="round"/>
<circle cx="921.6" cy="685.8" r="5.4" fill="#ef3f43" stroke="#e92a2e" stroke-width="0.7" stroke-linejoin="round"/>
<path d="M921.6 649.4L928.35 661L914.85 661Z" fill="#3b6db5" stroke="#2f60ae" stroke-width="0.7" stroke-linejoin="round"/>
<path d="M914.85 689.2L928.35 689.2L921.6 700.8Z" fill="#35ae6e" stroke="#27a460" stroke-width="0.7" stroke-linejoin="round"/>
<path d="M921.6 658.45L928.45 665.3L921.6 672.15L914.75 665.3Z" fill="#a17ab7" stroke="#9670b0" stroke-width="0.7" stroke-linejoin="round"/>
<rect x="963.9" y="670.2" width="8.4" height="8.4" fill="#4f504f" stroke="#2e2e2e" stroke-width="0.7" stroke-linejoin="round"/>
<circle cx="968.1" cy="637.1" r="5.4" fill="#ef3f43" stroke="#e92a2e" stroke-width="0.7" stroke-linejoin="round"/>
<path d="M968.1 614.7L974.85 626.3L961.35 626.3Z" fill="#3b6db5" stroke="#2f60ae" stroke-width="0.7" stroke-linejoin="round"/>
<path d="M961.35 678.9L974.85 678.9L968.1 690.5Z" fill="#35ae6e" stroke="#27a460" stroke-width="0.7" stroke-linejoin="round"/>
<path d="M968.1 645.85L974.95 652.7L968.1 659.55L961.25 652.7Z" fill="#a17ab7" stroke="#9670b0" stroke-width="0.7" stroke-linejoin="round"/>
<rect x="572.8" y="400.2" width="418.1" height="333.7" fill="none" stroke="#111" stroke-width="2"/>
<path d="M596.1 734.9V740.9M642.6 734.9V740.9M689.1 734.9V740.9M735.6 734.9V740.9M782.1 734.9V740.9M828.6 734.9V740.9M875.1 734.9V740.9M921.6 734.9V740.9M968.1 734.9V740.9M565.3 722.7H571.8M565.3 642.2H571.8M565.3 561.7H571.8M565.3 480.6H571.8M565.3 400.1H571.8" stroke="#111" stroke-width="1.8" fill="none"/>
<text class="t" transform="translate(560.5 728.7) scale(1.06 1)" text-anchor="end">0</text>
<text class="t" transform="translate(560.5 648.2) scale(1.06 1)" text-anchor="end">4</text>
<text class="t" transform="translate(560.5 567.7) scale(1.06 1)" text-anchor="end">8</text>
<text class="t" transform="translate(560.5 486.6) scale(1.06 1)" text-anchor="end">12</text>
<text class="t" transform="translate(560.5 406.1) scale(1.06 1)" text-anchor="end">16</text>
<text class="tb" font-size="24" text-anchor="middle" transform="translate(534.1 566.4) rotate(-90) scale(1 1.13)" x="0" y="0" textLength="150.7" lengthAdjust="spacingAndGlyphs"><tspan>NO</tspan><tspan font-size="14.5" font-weight="normal" dy="5.9">3</tspan><tspan font-weight="normal" dy="-5.9">(</tspan><tspan>μmol L</tspan><tspan font-size="14.5" dy="-10.2">-1</tspan><tspan font-weight="normal" dy="10.2">)</tspan></text>
<text class="pl" x="511.4" y="394.8">E</text>
<path d="M1325.35 441.6V496.1M1321.85 441.6H1328.85M1321.85 496.1H1328.85" stroke="#5a88cc" stroke-width="1.1" fill="none"/>
<path d="M1465.48 626V639.4M1461.98 626H1468.98M1461.98 639.4H1468.98" stroke="#ef5a5e" stroke-width="1.1" fill="none"/>
<path d="M1185.22 642V652M1181.72 642H1188.72M1181.72 652H1188.72" stroke="#555555" stroke-width="1.1" fill="none"/>
<rect x="1087.6" y="473.8" width="8.4" height="8.4" fill="#4f504f" stroke="#2e2e2e" stroke-width="0.7" stroke-linejoin="round"/>
<circle cx="1091.8" cy="479" r="5.4" fill="#ef3f43" stroke="#e92a2e" stroke-width="0.7" stroke-linejoin="round"/>
<path d="M1091.8 468.2L1098.55 479.8L1085.05 479.8Z" fill="#3b6db5" stroke="#2f60ae" stroke-width="0.7" stroke-linejoin="round"/>
<path d="M1085.05 482.3L1098.55 482.3L1091.8 493.9Z" fill="#35ae6e" stroke="#27a460" stroke-width="0.7" stroke-linejoin="round"/>
<path d="M1091.8 466.35L1098.65 473.2L1091.8 480.05L1084.95 473.2Z" fill="#a17ab7" stroke="#9670b0" stroke-width="0.7" stroke-linejoin="round"/>
<rect x="1134.31" y="653.8" width="8.4" height="8.4" fill="#4f504f" stroke="#2e2e2e" stroke-width="0.7" stroke-linejoin="round"/>
<circle cx="1138.51" cy="645.6" r="5.4" fill="#ef3f43" stroke="#e92a2e" stroke-width="0.7" stroke-linejoin="round"/>
<path d="M1138.51 599.6L1145.26 611.2L1131.76 611.2Z" fill="#3b6db5" stroke="#2f60ae" stroke-width="0.7" stroke-linejoin="round"/>
<path d="M1131.76 652.5L1145.26 652.5L1138.51 664.1Z" fill="#35ae6e" stroke="#27a460" stroke-width="0.7" stroke-linejoin="round"/>
<path d="M1138.51 651.45L1145.36 658.3L1138.51 665.15L1131.66 658.3Z" fill="#a17ab7" stroke="#9670b0" stroke-width="0.7" stroke-linejoin="round"/>
<rect x="1181.02" y="643.1" width="8.4" height="8.4" fill="#4f504f" stroke="#2e2e2e" stroke-width="0.7" stroke-linejoin="round"/>
<circle cx="1185.22" cy="653.2" r="5.4" fill="#ef3f43" stroke="#e92a2e" stroke-width="0.7" stroke-linejoin="round"/>
<path d="M1185.22 612.5L1191.97 624.1L1178.47 624.1Z" fill="#3b6db5" stroke="#2f60ae" stroke-width="0.7" stroke-linejoin="round"/>
<path d="M1178.47 665.6L1191.97 665.6L1185.22 677.2Z" fill="#35ae6e" stroke="#27a460" stroke-width="0.7" stroke-linejoin="round"/>
<path d="M1185.22 653.75L1192.07 660.6L1185.22 667.45L1178.37 660.6Z" fill="#a17ab7" stroke="#9670b0" stroke-width="0.7" stroke-linejoin="round"/>
<rect x="1227.73" y="624.4" width="8.4" height="8.4" fill="#4f504f" stroke="#2e2e2e" stroke-width="0.7" stroke-linejoin="round"/>
<circle cx="1231.93" cy="653" r="5.4" fill="#ef3f43" stroke="#e92a2e" stroke-width="0.7" stroke-linejoin="round"/>
<path d="M1231.93 629.5L1238.68 641.1L1225.18 641.1Z" fill="#3b6db5" stroke="#2f60ae" stroke-width="0.7" stroke-linejoin="round"/>
<path d="M1225.18 637.5L1238.68 637.5L1231.93 649.1Z" fill="#35ae6e" stroke="#27a460" stroke-width="0.7" stroke-linejoin="round"/>
<path d="M1231.93 651.45L1238.78 658.3L1231.93 665.15L1225.08 658.3Z" fill="#a17ab7" stroke="#9670b0" stroke-width="0.7" stroke-linejoin="round"/>
<rect x="1274.44" y="669.7" width="8.4" height="8.4" fill="#4f504f" stroke="#2e2e2e" stroke-width="0.7" stroke-linejoin="round"/>
<circle cx="1278.64" cy="686.4" r="5.4" fill="#ef3f43" stroke="#e92a2e" stroke-width="0.7" stroke-linejoin="round"/>
<path d="M1278.64 667.7L1285.39 679.3L1271.89 679.3Z" fill="#3b6db5" stroke="#2f60ae" stroke-width="0.7" stroke-linejoin="round"/>
<path d="M1271.89 646.1L1285.39 646.1L1278.64 657.7Z" fill="#35ae6e" stroke="#27a460" stroke-width="0.7" stroke-linejoin="round"/>
<path d="M1278.64 683.45L1285.49 690.3L1278.64 697.15L1271.79 690.3Z" fill="#a17ab7" stroke="#9670b0" stroke-width="0.7" stroke-linejoin="round"/>
<rect x="1321.15" y="677.1" width="8.4" height="8.4" fill="#4f504f" stroke="#2e2e2e" stroke-width="0.7" stroke-linejoin="round"/>
<circle cx="1325.35" cy="689.1" r="5.4" fill="#ef3f43" stroke="#e92a2e" stroke-width="0.7" stroke-linejoin="round"/>
<path d="M1325.35 461.8L1332.1 473.4L1318.6 473.4Z" fill="#3b6db5" stroke="#2f60ae" stroke-width="0.7" stroke-linejoin="round"/>
<path d="M1318.6 677.2L1332.1 677.2L1325.35 688.8Z" fill="#35ae6e" stroke="#27a460" stroke-width="0.7" stroke-linejoin="round"/>
<path d="M1325.35 670.95L1332.2 677.8L1325.35 684.65L1318.5 677.8Z" fill="#a17ab7" stroke="#9670b0" stroke-width="0.7" stroke-linejoin="round"/>
<rect x="1367.86" y="661.7" width="8.4" height="8.4" fill="#4f504f" stroke="#2e2e2e" stroke-width="0.7" stroke-linejoin="round"/>
<circle cx="1372.06" cy="681.3" r="5.4" fill="#ef3f43" stroke="#e92a2e" stroke-width="0.7" stroke-linejoin="round"/>
<path d="M1372.06 666.5L1378.81 678.1L1365.31 678.1Z" fill="#3b6db5" stroke="#2f60ae" stroke-width="0.7" stroke-linejoin="round"/>
<path d="M1365.31 666.3L1378.81 666.3L1372.06 677.9Z" fill="#35ae6e" stroke="#27a460" stroke-width="0.7" stroke-linejoin="round"/>
<path d="M1372.06 674.65L1378.91 681.5L1372.06 688.35L1365.21 681.5Z" fill="#a17ab7" stroke="#9670b0" stroke-width="0.7" stroke-linejoin="round"/>
<rect x="1414.57" y="663.8" width="8.4" height="8.4" fill="#4f504f" stroke="#2e2e2e" stroke-width="0.7" stroke-linejoin="round"/>
<circle cx="1418.77" cy="666.8" r="5.4" fill="#ef3f43" stroke="#e92a2e" stroke-width="0.7" stroke-linejoin="round"/>
<path d="M1418.77 642.4L1425.52 654L1412.02 654Z" fill="#3b6db5" stroke="#2f60ae" stroke-width="0.7" stroke-linejoin="round"/>
<path d="M1412.02 664L1425.52 664L1418.77 675.6Z" fill="#35ae6e" stroke="#27a460" stroke-width="0.7" stroke-linejoin="round"/>
<path d="M1418.77 652.15L1425.62 659L1418.77 665.85L1411.92 659Z" fill="#a17ab7" stroke="#9670b0" stroke-width="0.7" stroke-linejoin="round"/>
<rect x="1461.28" y="644.9" width="8.4" height="8.4" fill="#4f504f" stroke="#2e2e2e" stroke-width="0.7" stroke-linejoin="round"/>
<circle cx="1465.48" cy="632.1" r="5.4" fill="#ef3f43" stroke="#e92a2e" stroke-width="0.7" stroke-linejoin="round"/>
<path d="M1465.48 615.9L1472.23 627.5L1458.73 627.5Z" fill="#3b6db5" stroke="#2f60ae" stroke-width="0.7" stroke-linejoin="round"/>
<path d="M1458.73 657.1L1472.23 657.1L1465.48 668.7Z" fill="#35ae6e" stroke="#27a460" stroke-width="0.7" stroke-linejoin="round"/>
<path d="M1465.48 668.95L1472.33 675.8L1465.48 682.65L1458.63 675.8Z" fill="#a17ab7" stroke="#9670b0" stroke-width="0.7" stroke-linejoin="round"/>
<rect x="1068.5" y="400.2" width="420.6" height="333.8" fill="none" stroke="#111" stroke-width="2"/>
<path d="M1091.8 735V741M1138.51 735V741M1185.22 735V741M1231.93 735V741M1278.64 735V741M1325.35 735V741M1372.06 735V741M1418.77 735V741M1465.48 735V741M1061 697H1067.5M1061 623.4H1067.5M1061 546H1067.5M1061 473.2H1067.5M1061 400.2H1067.5" stroke="#111" stroke-width="1.8" fill="none"/>
<text class="t" transform="translate(1056.2 703) scale(1.06 1)" text-anchor="end">0.0</text>
<text class="t" transform="translate(1056.2 629.4) scale(1.06 1)" text-anchor="end">0.5</text>
<text class="t" transform="translate(1056.2 552) scale(1.06 1)" text-anchor="end">2.0</text>
<text class="t" transform="translate(1056.2 479.2) scale(1.06 1)" text-anchor="end">2.5</text>
<text class="t" transform="translate(1056.2 406.2) scale(1.06 1)" text-anchor="end">3.0</text>
<text class="tb" font-size="24" text-anchor="middle" transform="translate(1016.4 566.8) rotate(-90) scale(1 1.13)" x="0" y="0" textLength="153.6" lengthAdjust="spacingAndGlyphs"><tspan>NO</tspan><tspan font-size="14.5" font-weight="normal" dy="5.9">2</tspan><tspan dy="-5.9"> </tspan><tspan font-weight="normal">(</tspan><tspan>μmol L</tspan><tspan font-size="14.5" dy="-10.2">-1</tspan><tspan font-weight="normal" dy="10.2">)</tspan></text>
<text class="pl" x="997.6" y="394.8">F</text>
<path d="M238.75 793.5V819.9M235.25 793.5H242.25M235.25 819.9H242.25" stroke="#555555" stroke-width="1.1" fill="none"/>
<path d="M238.75 813.1V869M235.25 813.1H242.25M235.25 869H242.25" stroke="#5a88cc" stroke-width="1.1" fill="none"/>
<path d="M238.75 947.3V976.8M235.25 947.3H242.25M235.25 976.8H242.25" stroke="#ef5a5e" stroke-width="1.1" fill="none"/>
<path d="M238.75 820V834M235.25 820H242.25M235.25 834H242.25" stroke="#4dbb80" stroke-width="1.1" fill="none"/>
<path d="M145.25 1004.2V1018.4M141.75 1004.2H148.75M141.75 1018.4H148.75" stroke="#ef5a5e" stroke-width="1.1" fill="none"/>
<path d="M145.25 1032.3V1050.2M141.75 1032.3H148.75M141.75 1050.2H148.75" stroke="#555555" stroke-width="1.1" fill="none"/>
<path d="M192 988.2V1007.2M188.5 988.2H195.5M188.5 1007.2H195.5" stroke="#5a88cc" stroke-width="1.1" fill="none"/>
<path d="M425.75 988V1010M422.25 988H429.25M422.25 1010H429.25" stroke="#ad88c4" stroke-width="1.1" fill="none"/>
<path d="M425.75 1003V1028.9M422.25 1003H429.25M422.25 1028.9H429.25" stroke="#5a88cc" stroke-width="1.1" fill="none"/>
<path d="M332.25 998V1016.2M328.75 998H335.75M328.75 1016.2H335.75" stroke="#4dbb80" stroke-width="1.1" fill="none"/>
<path d="M472.5 948V961.8M469 948H476M469 961.8H476" stroke="#ef5a5e" stroke-width="1.1" fill="none"/>
<path d="M98.5 1030.5V1042.3M95 1030.5H102M95 1042.3H102" stroke="#555555" stroke-width="1.1" fill="none"/>
<rect x="94.3" y="1031.9" width="8.4" height="8.4" fill="#4f504f" stroke="#2e2e2e" stroke-width="0.7" stroke-linejoin="round"/>
<circle cx="98.5" cy="929.4" r="5.4" fill="#ef3f43" stroke="#e92a2e" stroke-width="0.7" stroke-linejoin="round"/>
<path d="M98.5 870L105.25 881.6L91.75 881.6Z" fill="#3b6db5" stroke="#2f60ae" stroke-width="0.7" stroke-linejoin="round"/>
<path d="M91.75 1060.5L105.25 1060.5L98.5 1072.1Z" fill="#35ae6e" stroke="#27a460" stroke-width="0.7" stroke-linejoin="round"/>
<path d="M98.5 1052.05L105.35 1058.9L98.5 1065.75L91.65 1058.9Z" fill="#a17ab7" stroke="#9670b0" stroke-width="0.7" stroke-linejoin="round"/>
<rect x="141.05" y="1037" width="8.4" height="8.4" fill="#4f504f" stroke="#2e2e2e" stroke-width="0.7" stroke-linejoin="round"/>
<circle cx="145.25" cy="1008.4" r="5.4" fill="#ef3f43" stroke="#e92a2e" stroke-width="0.7" stroke-linejoin="round"/>
<path d="M145.25 940.6L152 952.2L138.5 952.2Z" fill="#3b6db5" stroke="#2f60ae" stroke-width="0.7" stroke-linejoin="round"/>
<path d="M138.5 1037.7L152 1037.7L145.25 1049.3Z" fill="#35ae6e" stroke="#27a460" stroke-width="0.7" stroke-linejoin="round"/>
<path d="M145.25 984.55L152.1 991.4L145.25 998.25L138.4 991.4Z" fill="#a17ab7" stroke="#9670b0" stroke-width="0.7" stroke-linejoin="round"/>
<rect x="187.8" y="1059.4" width="8.4" height="8.4" fill="#4f504f" stroke="#2e2e2e" stroke-width="0.7" stroke-linejoin="round"/>
<circle cx="192" cy="1063.6" r="5.4" fill="#ef3f43" stroke="#e92a2e" stroke-width="0.7" stroke-linejoin="round"/>
<path d="M192 990.7L198.75 1002.3L185.25 1002.3Z" fill="#3b6db5" stroke="#2f60ae" stroke-width="0.7" stroke-linejoin="round"/>
<path d="M185.25 1015.7L198.75 1015.7L192 1027.3Z" fill="#35ae6e" stroke="#27a460" stroke-width="0.7" stroke-linejoin="round"/>
<path d="M192 1053.35L198.85 1060.2L192 1067.05L185.15 1060.2Z" fill="#a17ab7" stroke="#9670b0" stroke-width="0.7" stroke-linejoin="round"/>
<rect x="234.55" y="803.6" width="8.4" height="8.4" fill="#4f504f" stroke="#2e2e2e" stroke-width="0.7" stroke-linejoin="round"/>
<circle cx="238.75" cy="961.8" r="5.4" fill="#ef3f43" stroke="#e92a2e" stroke-width="0.7" stroke-linejoin="round"/>
<path d="M238.75 832.2L245.5 843.8L232 843.8Z" fill="#3b6db5" stroke="#2f60ae" stroke-width="0.7" stroke-linejoin="round"/>
<path d="M232 820.8L245.5 820.8L238.75 832.4Z" fill="#35ae6e" stroke="#27a460" stroke-width="0.7" stroke-linejoin="round"/>
<path d="M238.75 979.85L245.6 986.7L238.75 993.55L231.9 986.7Z" fill="#a17ab7" stroke="#9670b0" stroke-width="0.7" stroke-linejoin="round"/>
<rect x="281.3" y="1063.8" width="8.4" height="8.4" fill="#4f504f" stroke="#2e2e2e" stroke-width="0.7" stroke-linejoin="round"/>
<circle cx="285.5" cy="1049.5" r="5.4" fill="#ef3f43" stroke="#e92a2e" stroke-width="0.7" stroke-linejoin="round"/>
<path d="M285.5 1055.5L292.25 1067.1L278.75 1067.1Z" fill="#3b6db5" stroke="#2f60ae" stroke-width="0.7" stroke-linejoin="round"/>
<path d="M278.75 994.1L292.25 994.1L285.5 1005.7Z" fill="#35ae6e" stroke="#27a460" stroke-width="0.7" stroke-linejoin="round"/>
<path d="M285.5 1066.35L292.35 1073.2L285.5 1080.05L278.65 1073.2Z" fill="#a17ab7" stroke="#9670b0" stroke-width="0.7" stroke-linejoin="round"/>
<rect x="328.05" y="977.3" width="8.4" height="8.4" fill="#4f504f" stroke="#2e2e2e" stroke-width="0.7" stroke-linejoin="round"/>
<circle cx="332.25" cy="1056.2" r="5.4" fill="#ef3f43" stroke="#e92a2e" stroke-width="0.7" stroke-linejoin="round"/>
<path d="M332.25 1043.9L339 1055.5L325.5 1055.5Z" fill="#3b6db5" stroke="#2f60ae" stroke-width="0.7" stroke-linejoin="round"/>
<path d="M325.5 1000.1L339 1000.1L332.25 1011.7Z" fill="#35ae6e" stroke="#27a460" stroke-width="0.7" stroke-linejoin="round"/>
<path d="M332.25 995.65L339.1 1002.5L332.25 1009.35L325.4 1002.5Z" fill="#a17ab7" stroke="#9670b0" stroke-width="0.7" stroke-linejoin="round"/>
<rect x="374.8" y="1040.8" width="8.4" height="8.4" fill="#4f504f" stroke="#2e2e2e" stroke-width="0.7" stroke-linejoin="round"/>
<circle cx="379" cy="1041.4" r="5.4" fill="#ef3f43" stroke="#e92a2e" stroke-width="0.7" stroke-linejoin="round"/>
<path d="M379 1072.8L385.75 1084.4L372.25 1084.4Z" fill="#3b6db5" stroke="#2f60ae" stroke-width="0.7" stroke-linejoin="round"/>
<path d="M372.25 1047.1L385.75 1047.1L379 1058.7Z" fill="#35ae6e" stroke="#27a460" stroke-width="0.7" stroke-linejoin="round"/>
<path d="M379 1061.25L385.85 1068.1L379 1074.95L372.15 1068.1Z" fill="#a17ab7" stroke="#9670b0" stroke-width="0.7" stroke-linejoin="round"/>
<rect x="421.55" y="1051.1" width="8.4" height="8.4" fill="#4f504f" stroke="#2e2e2e" stroke-width="0.7" stroke-linejoin="round"/>
<circle cx="425.75" cy="1037.9" r="5.4" fill="#ef3f43" stroke="#e92a2e" stroke-width="0.7" stroke-linejoin="round"/>
<path d="M425.75 1009.9L432.5 1021.5L419 1021.5Z" fill="#3b6db5" stroke="#2f60ae" stroke-width="0.7" stroke-linejoin="round"/>
<path d="M419 1042.6L432.5 1042.6L425.75 1054.2Z" fill="#35ae6e" stroke="#27a460" stroke-width="0.7" stroke-linejoin="round"/>
<path d="M425.75 993.05L432.6 999.9L425.75 1006.75L418.9 999.9Z" fill="#a17ab7" stroke="#9670b0" stroke-width="0.7" stroke-linejoin="round"/>
<rect x="468.3" y="892.3" width="8.4" height="8.4" fill="#4f504f" stroke="#2e2e2e" stroke-width="0.7" stroke-linejoin="round"/>
<circle cx="472.5" cy="954.2" r="5.4" fill="#ef3f43" stroke="#e92a2e" stroke-width="0.7" stroke-linejoin="round"/>
<path d="M472.5 982L479.25 993.6L465.75 993.6Z" fill="#3b6db5" stroke="#2f60ae" stroke-width="0.7" stroke-linejoin="round"/>
<path d="M465.75 932.6L479.25 932.6L472.5 944.2Z" fill="#35ae6e" stroke="#27a460" stroke-width="0.7" stroke-linejoin="round"/>
<path d="M472.5 938.25L479.35 945.1L472.5 951.95L465.65 945.1Z" fill="#a17ab7" stroke="#9670b0" stroke-width="0.7" stroke-linejoin="round"/>
<rect x="75" y="765.3" width="420.7" height="334.7" fill="none" stroke="#111" stroke-width="2"/>
<path d="M98.5 1101V1107M145.25 1101V1107M192 1101V1107M238.75 1101V1107M285.5 1101V1107M332.25 1101V1107M379 1101V1107M425.75 1101V1107M472.5 1101V1107M67.5 1100H74M67.5 1027.8H74M67.5 955.6H74M67.5 884H74M67.5 812.7H74" stroke="#111" stroke-width="1.8" fill="none"/>
<text class="t" transform="translate(62.7 1106) scale(1.06 1)" text-anchor="end">0</text>
<text class="t" transform="translate(62.7 1033.8) scale(1.06 1)" text-anchor="end">3</text>
<text class="t" transform="translate(62.7 961.6) scale(1.06 1)" text-anchor="end">6</text>
<text class="t" transform="translate(62.7 890) scale(1.06 1)" text-anchor="end">9</text>
<text class="t" transform="translate(62.7 818.7) scale(1.06 1)" text-anchor="end">12</text>
<text class="tb" font-size="24" text-anchor="middle" transform="translate(28.6 933) rotate(-90) scale(1 1.13)" x="0" y="0" textLength="157.4" lengthAdjust="spacingAndGlyphs"><tspan>NH</tspan><tspan font-size="14.5" font-weight="normal" dy="5.9">4</tspan><tspan dy="-5.9"> </tspan><tspan font-weight="normal">(</tspan><tspan>μmol L</tspan><tspan font-size="14.5" dy="-10.2">-1</tspan><tspan font-weight="normal" dy="10.2">)</tspan></text>
<text class="pl" x="13.7" y="756.3">G</text>
<rect x="591.9" y="1049.5" width="8.4" height="8.4" fill="#4f504f" stroke="#2e2e2e" stroke-width="0.7" stroke-linejoin="round"/>
<circle cx="596.1" cy="1037.2" r="5.4" fill="#ef3f43" stroke="#e92a2e" stroke-width="0.7" stroke-linejoin="round"/>
<path d="M596.1 1019.3L602.85 1030.9L589.35 1030.9Z" fill="#3b6db5" stroke="#2f60ae" stroke-width="0.7" stroke-linejoin="round"/>
<path d="M589.35 1032.5L602.85 1032.5L596.1 1044.1Z" fill="#35ae6e" stroke="#27a460" stroke-width="0.7" stroke-linejoin="round"/>
<path d="M596.1 1010.85L602.95 1017.7L596.1 1024.55L589.25 1017.7Z" fill="#a17ab7" stroke="#9670b0" stroke-width="0.7" stroke-linejoin="round"/>
<rect x="638.4" y="1054" width="8.4" height="8.4" fill="#4f504f" stroke="#2e2e2e" stroke-width="0.7" stroke-linejoin="round"/>
<circle cx="642.6" cy="797.7" r="5.4" fill="#ef3f43" stroke="#e92a2e" stroke-width="0.7" stroke-linejoin="round"/>
<path d="M642.6 979.7L649.35 991.3L635.85 991.3Z" fill="#3b6db5" stroke="#2f60ae" stroke-width="0.7" stroke-linejoin="round"/>
<path d="M635.85 1032.5L649.35 1032.5L642.6 1044.1Z" fill="#35ae6e" stroke="#27a460" stroke-width="0.7" stroke-linejoin="round"/>
<path d="M642.6 885.85L649.45 892.7L642.6 899.55L635.75 892.7Z" fill="#a17ab7" stroke="#9670b0" stroke-width="0.7" stroke-linejoin="round"/>
<rect x="684.9" y="1059.4" width="8.4" height="8.4" fill="#4f504f" stroke="#2e2e2e" stroke-width="0.7" stroke-linejoin="round"/>
<circle cx="689.1" cy="1057.3" r="5.4" fill="#ef3f43" stroke="#e92a2e" stroke-width="0.7" stroke-linejoin="round"/>
<path d="M689.1 1027.4L695.85 1039L682.35 1039Z" fill="#3b6db5" stroke="#2f60ae" stroke-width="0.7" stroke-linejoin="round"/>
<path d="M682.35 1072.8L695.85 1072.8L689.1 1084.4Z" fill="#35ae6e" stroke="#27a460" stroke-width="0.7" stroke-linejoin="round"/>
<path d="M689.1 1056.75L695.95 1063.6L689.1 1070.45L682.25 1063.6Z" fill="#a17ab7" stroke="#9670b0" stroke-width="0.7" stroke-linejoin="round"/>
<rect x="731.4" y="1039.5" width="8.4" height="8.4" fill="#4f504f" stroke="#2e2e2e" stroke-width="0.7" stroke-linejoin="round"/>
<circle cx="735.6" cy="998.3" r="5.4" fill="#ef3f43" stroke="#e92a2e" stroke-width="0.7" stroke-linejoin="round"/>
<path d="M735.6 1018.9L742.35 1030.5L728.85 1030.5Z" fill="#3b6db5" stroke="#2f60ae" stroke-width="0.7" stroke-linejoin="round"/>
<path d="M728.85 1021.3L742.35 1021.3L735.6 1032.9Z" fill="#35ae6e" stroke="#27a460" stroke-width="0.7" stroke-linejoin="round"/>
<path d="M735.6 1045.75L742.45 1052.6L735.6 1059.45L728.75 1052.6Z" fill="#a17ab7" stroke="#9670b0" stroke-width="0.7" stroke-linejoin="round"/>
<rect x="777.9" y="1032.3" width="8.4" height="8.4" fill="#4f504f" stroke="#2e2e2e" stroke-width="0.7" stroke-linejoin="round"/>
<circle cx="782.1" cy="946.6" r="5.4" fill="#ef3f43" stroke="#e92a2e" stroke-width="0.7" stroke-linejoin="round"/>
<path d="M782.1 1026.7L788.85 1038.3L775.35 1038.3Z" fill="#3b6db5" stroke="#2f60ae" stroke-width="0.7" stroke-linejoin="round"/>
<path d="M775.35 1019.1L788.85 1019.1L782.1 1030.7Z" fill="#35ae6e" stroke="#27a460" stroke-width="0.7" stroke-linejoin="round"/>
<path d="M782.1 1044.65L788.95 1051.5L782.1 1058.35L775.25 1051.5Z" fill="#a17ab7" stroke="#9670b0" stroke-width="0.7" stroke-linejoin="round"/>
<rect x="824.4" y="1038.6" width="8.4" height="8.4" fill="#4f504f" stroke="#2e2e2e" stroke-width="0.7" stroke-linejoin="round"/>
<circle cx="828.6" cy="1062.5" r="5.4" fill="#ef3f43" stroke="#e92a2e" stroke-width="0.7" stroke-linejoin="round"/>
<path d="M828.6 982.9L835.35 994.5L821.85 994.5Z" fill="#3b6db5" stroke="#2f60ae" stroke-width="0.7" stroke-linejoin="round"/>
<path d="M821.85 1045.3L835.35 1045.3L828.6 1056.9Z" fill="#35ae6e" stroke="#27a460" stroke-width="0.7" stroke-linejoin="round"/>
<path d="M828.6 1058.05L835.45 1064.9L828.6 1071.75L821.75 1064.9Z" fill="#a17ab7" stroke="#9670b0" stroke-width="0.7" stroke-linejoin="round"/>
<rect x="870.9" y="978.2" width="8.4" height="8.4" fill="#4f504f" stroke="#2e2e2e" stroke-width="0.7" stroke-linejoin="round"/>
<circle cx="875.1" cy="951.8" r="5.4" fill="#ef3f43" stroke="#e92a2e" stroke-width="0.7" stroke-linejoin="round"/>
<path d="M875.1 977.3L881.85 988.9L868.35 988.9Z" fill="#3b6db5" stroke="#2f60ae" stroke-width="0.7" stroke-linejoin="round"/>
<path d="M868.35 930.8L881.85 930.8L875.1 942.4Z" fill="#35ae6e" stroke="#27a460" stroke-width="0.7" stroke-linejoin="round"/>
<path d="M875.1 1015.85L881.95 1022.7L875.1 1029.55L868.25 1022.7Z" fill="#a17ab7" stroke="#9670b0" stroke-width="0.7" stroke-linejoin="round"/>
<rect x="917.4" y="1057.4" width="8.4" height="8.4" fill="#4f504f" stroke="#2e2e2e" stroke-width="0.7" stroke-linejoin="round"/>
<circle cx="921.6" cy="1036.3" r="5.4" fill="#ef3f43" stroke="#e92a2e" stroke-width="0.7" stroke-linejoin="round"/>
<path d="M921.6 998.5L928.35 1010.1L914.85 1010.1Z" fill="#3b6db5" stroke="#2f60ae" stroke-width="0.7" stroke-linejoin="round"/>
<path d="M914.85 1053.8L928.35 1053.8L921.6 1065.4Z" fill="#35ae6e" stroke="#27a460" stroke-width="0.7" stroke-linejoin="round"/>
<path d="M921.6 1021.15L928.45 1028L921.6 1034.85L914.75 1028Z" fill="#a17ab7" stroke="#9670b0" stroke-width="0.7" stroke-linejoin="round"/>
<rect x="963.9" y="1047.3" width="8.4" height="8.4" fill="#4f504f" stroke="#2e2e2e" stroke-width="0.7" stroke-linejoin="round"/>
<circle cx="968.1" cy="1043.7" r="5.4" fill="#ef3f43" stroke="#e92a2e" stroke-width="0.7" stroke-linejoin="round"/>
<path d="M968.1 1014.2L974.85 1025.8L961.35 1025.8Z" fill="#3b6db5" stroke="#2f60ae" stroke-width="0.7" stroke-linejoin="round"/>
<path d="M961.35 1014.2L974.85 1014.2L968.1 1025.8Z" fill="#35ae6e" stroke="#27a460" stroke-width="0.7" stroke-linejoin="round"/>
<path d="M968.1 1038.35L974.95 1045.2L968.1 1052.05L961.25 1045.2Z" fill="#a17ab7" stroke="#9670b0" stroke-width="0.7" stroke-linejoin="round"/>
<rect x="572.8" y="765.2" width="418.1" height="334.8" fill="none" stroke="#111" stroke-width="2"/>
<path d="M596.1 1101V1107M642.6 1101V1107M689.1 1101V1107M735.6 1101V1107M782.1 1101V1107M828.6 1101V1107M875.1 1101V1107M921.6 1101V1107M968.1 1101V1107M565.3 1100H571.8M565.3 1022.7H571.8M565.3 946.2H571.8M565.3 869.7H571.8M565.3 793.5H571.8" stroke="#111" stroke-width="1.8" fill="none"/>
<text class="t" transform="translate(560.5 1106) scale(1.06 1)" text-anchor="end">0</text>
<text class="t" transform="translate(560.5 1028.7) scale(1.06 1)" text-anchor="end">8</text>
<text class="t" transform="translate(560.5 952.2) scale(1.06 1)" text-anchor="end">16</text>
<text class="t" transform="translate(560.5 875.7) scale(1.06 1)" text-anchor="end">24</text>
<text class="t" transform="translate(560.5 799.5) scale(1.06 1)" text-anchor="end">32</text>
<text class="tb" font-size="24" text-anchor="middle" transform="translate(525.5 932.5) rotate(-90) scale(1 1.13)" x="0" y="0" textLength="156.4" lengthAdjust="spacingAndGlyphs"><tspan>SiO</tspan><tspan font-size="14.5" font-weight="normal" dy="5.9">3</tspan><tspan dy="-5.9"> </tspan><tspan font-weight="normal">(</tspan><tspan>μmol L</tspan><tspan font-size="14.5" dy="-10.2">-1</tspan><tspan font-weight="normal" dy="10.2">)</tspan></text>
<text class="pl" x="508.6" y="756.5">H</text>
<path d="M1091.8 1038.7V1063.7M1088.3 1038.7H1095.3M1088.3 1063.7H1095.3" stroke="#4dbb80" stroke-width="1.1" fill="none"/>
<path d="M1418.77 918.2V941.3M1415.27 918.2H1422.27M1415.27 941.3H1422.27" stroke="#5a88cc" stroke-width="1.1" fill="none"/>
<path d="M1418.77 1003.2V1029.6M1415.27 1003.2H1422.27M1415.27 1029.6H1422.27" stroke="#ef5a5e" stroke-width="1.1" fill="none"/>
<path d="M1418.77 988.7V1002M1415.27 988.7H1422.27M1415.27 1002H1422.27" stroke="#4dbb80" stroke-width="1.1" fill="none"/>
<path d="M1465.48 794.8V808.7M1461.98 794.8H1468.98M1461.98 808.7H1468.98" stroke="#5a88cc" stroke-width="1.1" fill="none"/>
<path d="M1465.48 849V862.8M1461.98 849H1468.98M1461.98 862.8H1468.98" stroke="#ef5a5e" stroke-width="1.1" fill="none"/>
<path d="M1465.48 937.2V953.6M1461.98 937.2H1468.98M1461.98 953.6H1468.98" stroke="#4dbb80" stroke-width="1.1" fill="none"/>
<path d="M1465.48 967V995.4M1461.98 967H1468.98M1461.98 995.4H1468.98" stroke="#ad88c4" stroke-width="1.1" fill="none"/>
<path d="M1138.51 865.7V878M1135.01 865.7H1142.01M1135.01 878H1142.01" stroke="#ad88c4" stroke-width="1.1" fill="none"/>
<rect x="1087.6" y="1043.8" width="8.4" height="8.4" fill="#4f504f" stroke="#2e2e2e" stroke-width="0.7" stroke-linejoin="round"/>
<circle cx="1091.8" cy="1012.5" r="5.4" fill="#ef3f43" stroke="#e92a2e" stroke-width="0.7" stroke-linejoin="round"/>
<path d="M1091.8 935.8L1098.55 947.4L1085.05 947.4Z" fill="#3b6db5" stroke="#2f60ae" stroke-width="0.7" stroke-linejoin="round"/>
<path d="M1085.05 1047.2L1098.55 1047.2L1091.8 1058.8Z" fill="#35ae6e" stroke="#27a460" stroke-width="0.7" stroke-linejoin="round"/>
<path d="M1091.8 942.75L1098.65 949.6L1091.8 956.45L1084.95 949.6Z" fill="#a17ab7" stroke="#9670b0" stroke-width="0.7" stroke-linejoin="round"/>
<rect x="1134.31" y="1050.8" width="8.4" height="8.4" fill="#4f504f" stroke="#2e2e2e" stroke-width="0.7" stroke-linejoin="round"/>
<circle cx="1138.51" cy="878.3" r="5.4" fill="#ef3f43" stroke="#e92a2e" stroke-width="0.7" stroke-linejoin="round"/>
<path d="M1138.51 969.3L1145.26 980.9L1131.76 980.9Z" fill="#3b6db5" stroke="#2f60ae" stroke-width="0.7" stroke-linejoin="round"/>
<path d="M1131.76 1022.6L1145.26 1022.6L1138.51 1034.2Z" fill="#35ae6e" stroke="#27a460" stroke-width="0.7" stroke-linejoin="round"/>
<path d="M1138.51 866.05L1145.36 872.9L1138.51 879.75L1131.66 872.9Z" fill="#a17ab7" stroke="#9670b0" stroke-width="0.7" stroke-linejoin="round"/>
<rect x="1181.02" y="973.6" width="8.4" height="8.4" fill="#4f504f" stroke="#2e2e2e" stroke-width="0.7" stroke-linejoin="round"/>
<circle cx="1185.22" cy="1060.8" r="5.4" fill="#ef3f43" stroke="#e92a2e" stroke-width="0.7" stroke-linejoin="round"/>
<path d="M1185.22 1020.3L1191.97 1031.9L1178.47 1031.9Z" fill="#3b6db5" stroke="#2f60ae" stroke-width="0.7" stroke-linejoin="round"/>
<path d="M1178.47 1015.4L1191.97 1015.4L1185.22 1027Z" fill="#35ae6e" stroke="#27a460" stroke-width="0.7" stroke-linejoin="round"/>
<path d="M1185.22 1056.15L1192.07 1063L1185.22 1069.85L1178.37 1063Z" fill="#a17ab7" stroke="#9670b0" stroke-width="0.7" stroke-linejoin="round"/>
<rect x="1227.73" y="1039.8" width="8.4" height="8.4" fill="#4f504f" stroke="#2e2e2e" stroke-width="0.7" stroke-linejoin="round"/>
<circle cx="1231.93" cy="1081" r="5.4" fill="#ef3f43" stroke="#e92a2e" stroke-width="0.7" stroke-linejoin="round"/>
<path d="M1231.93 1052.1L1238.68 1063.7L1225.18 1063.7Z" fill="#3b6db5" stroke="#2f60ae" stroke-width="0.7" stroke-linejoin="round"/>
<path d="M1225.18 1046.1L1238.68 1046.1L1231.93 1057.7Z" fill="#35ae6e" stroke="#27a460" stroke-width="0.7" stroke-linejoin="round"/>
<path d="M1231.93 1078.15L1238.78 1085L1231.93 1091.85L1225.08 1085Z" fill="#a17ab7" stroke="#9670b0" stroke-width="0.7" stroke-linejoin="round"/>
<rect x="1274.44" y="1075.8" width="8.4" height="8.4" fill="#4f504f" stroke="#2e2e2e" stroke-width="0.7" stroke-linejoin="round"/>
<circle cx="1278.64" cy="1079.7" r="5.4" fill="#ef3f43" stroke="#e92a2e" stroke-width="0.7" stroke-linejoin="round"/>
<path d="M1278.64 1075.7L1285.39 1087.3L1271.89 1087.3Z" fill="#3b6db5" stroke="#2f60ae" stroke-width="0.7" stroke-linejoin="round"/>
<path d="M1271.89 1059.1L1285.39 1059.1L1278.64 1070.7Z" fill="#35ae6e" stroke="#27a460" stroke-width="0.7" stroke-linejoin="round"/>
<path d="M1278.64 1076.85L1285.49 1083.7L1278.64 1090.55L1271.79 1083.7Z" fill="#a17ab7" stroke="#9670b0" stroke-width="0.7" stroke-linejoin="round"/>
<rect x="1321.15" y="1046" width="8.4" height="8.4" fill="#4f504f" stroke="#2e2e2e" stroke-width="0.7" stroke-linejoin="round"/>
<circle cx="1325.35" cy="1069.6" r="5.4" fill="#ef3f43" stroke="#e92a2e" stroke-width="0.7" stroke-linejoin="round"/>
<path d="M1325.35 1021.1L1332.1 1032.7L1318.6 1032.7Z" fill="#3b6db5" stroke="#2f60ae" stroke-width="0.7" stroke-linejoin="round"/>
<path d="M1318.6 1049.7L1332.1 1049.7L1325.35 1061.3Z" fill="#35ae6e" stroke="#27a460" stroke-width="0.7" stroke-linejoin="round"/>
<path d="M1325.35 1052.25L1332.2 1059.1L1325.35 1065.95L1318.5 1059.1Z" fill="#a17ab7" stroke="#9670b0" stroke-width="0.7" stroke-linejoin="round"/>
<rect x="1367.86" y="1027" width="8.4" height="8.4" fill="#4f504f" stroke="#2e2e2e" stroke-width="0.7" stroke-linejoin="round"/>
<circle cx="1372.06" cy="1028.9" r="5.4" fill="#ef3f43" stroke="#e92a2e" stroke-width="0.7" stroke-linejoin="round"/>
<path d="M1372.06 1037.9L1378.81 1049.5L1365.31 1049.5Z" fill="#3b6db5" stroke="#2f60ae" stroke-width="0.7" stroke-linejoin="round"/>
<path d="M1365.31 1050.4L1378.81 1050.4L1372.06 1062Z" fill="#35ae6e" stroke="#27a460" stroke-width="0.7" stroke-linejoin="round"/>
<path d="M1372.06 1065.65L1378.91 1072.5L1372.06 1079.35L1365.21 1072.5Z" fill="#a17ab7" stroke="#9670b0" stroke-width="0.7" stroke-linejoin="round"/>
<rect x="1414.57" y="950.9" width="8.4" height="8.4" fill="#4f504f" stroke="#2e2e2e" stroke-width="0.7" stroke-linejoin="round"/>
<circle cx="1418.77" cy="1015.7" r="5.4" fill="#ef3f43" stroke="#e92a2e" stroke-width="0.7" stroke-linejoin="round"/>
<path d="M1418.77 922.3L1425.52 933.9L1412.02 933.9Z" fill="#3b6db5" stroke="#2f60ae" stroke-width="0.7" stroke-linejoin="round"/>
<path d="M1412.02 990.3L1425.52 990.3L1418.77 1001.9Z" fill="#35ae6e" stroke="#27a460" stroke-width="0.7" stroke-linejoin="round"/>
<path d="M1418.77 851.45L1425.62 858.3L1418.77 865.15L1411.92 858.3Z" fill="#a17ab7" stroke="#9670b0" stroke-width="0.7" stroke-linejoin="round"/>
<rect x="1461.28" y="896.8" width="8.4" height="8.4" fill="#4f504f" stroke="#2e2e2e" stroke-width="0.7" stroke-linejoin="round"/>
<circle cx="1465.48" cy="855.6" r="5.4" fill="#ef3f43" stroke="#e92a2e" stroke-width="0.7" stroke-linejoin="round"/>
<path d="M1465.48 795L1472.23 806.6L1458.73 806.6Z" fill="#3b6db5" stroke="#2f60ae" stroke-width="0.7" stroke-linejoin="round"/>
<path d="M1458.73 941.5L1472.23 941.5L1465.48 953.1Z" fill="#35ae6e" stroke="#27a460" stroke-width="0.7" stroke-linejoin="round"/>
<path d="M1465.48 973.95L1472.33 980.8L1465.48 987.65L1458.63 980.8Z" fill="#a17ab7" stroke="#9670b0" stroke-width="0.7" stroke-linejoin="round"/>
<rect x="1068.5" y="765.2" width="420.6" height="334.7" fill="none" stroke="#111" stroke-width="2"/>
<path d="M1091.8 1100.9V1106.9M1138.51 1100.9V1106.9M1185.22 1100.9V1106.9M1231.93 1100.9V1106.9M1278.64 1100.9V1106.9M1325.35 1100.9V1106.9M1372.06 1100.9V1106.9M1418.77 1100.9V1106.9M1465.48 1100.9V1106.9M1061 1099.5H1067.5M1061 1015.6H1067.5M1061 931.7H1067.5M1061 848.5H1067.5M1061 765.1H1067.5" stroke="#111" stroke-width="1.8" fill="none"/>
<text class="t" transform="translate(1056.2 1105.5) scale(1.06 1)" text-anchor="end">0.0</text>
<text class="t" transform="translate(1056.2 1021.6) scale(1.06 1)" text-anchor="end">0.5</text>
<text class="t" transform="translate(1056.2 937.7) scale(1.06 1)" text-anchor="end">1.0</text>
<text class="t" transform="translate(1056.2 854.5) scale(1.06 1)" text-anchor="end">1.5</text>
<text class="t" transform="translate(1056.2 771.1) scale(1.06 1)" text-anchor="end">2.0</text>
<text class="tb" font-size="24" text-anchor="middle" transform="translate(1029 931.2) rotate(-90) scale(1 1.13)" x="0" y="0" textLength="155.5" lengthAdjust="spacingAndGlyphs"><tspan>PO</tspan><tspan font-size="14.5" font-weight="normal" dy="5.9">4</tspan><tspan dy="-5.9"> </tspan><tspan font-weight="normal">(</tspan><tspan>μmol L</tspan><tspan font-size="14.5" dy="-10.2">-1</tspan><tspan font-weight="normal" dy="10.2">)</tspan></text>
<text class="pl" x="996.8" y="756.5">I</text>
<path d="M98.5 1342.5V1357M95 1342.5H102M95 1357H102" stroke="#ad88c4" stroke-width="1.1" fill="none"/>
<path d="M98.5 1413V1428.6M95 1413H102M95 1428.6H102" stroke="#555555" stroke-width="1.1" fill="none"/>
<path d="M192 1343.6V1359.7M188.5 1343.6H195.5M188.5 1359.7H195.5" stroke="#4dbb80" stroke-width="1.1" fill="none"/>
<path d="M192 1352.6V1370.4M188.5 1352.6H195.5M188.5 1370.4H195.5" stroke="#5a88cc" stroke-width="1.1" fill="none"/>
<path d="M332.25 1148.4V1183.1M328.75 1148.4H335.75M328.75 1183.1H335.75" stroke="#4dbb80" stroke-width="1.1" fill="none"/>
<path d="M332.25 1202.7V1220.6M328.75 1202.7H335.75M328.75 1220.6H335.75" stroke="#555555" stroke-width="1.1" fill="none"/>
<path d="M332.25 1222.9V1240.8M328.75 1222.9H335.75M328.75 1240.8H335.75" stroke="#5a88cc" stroke-width="1.1" fill="none"/>
<path d="M425.75 1319V1336M422.25 1319H429.25M422.25 1336H429.25" stroke="#ad88c4" stroke-width="1.1" fill="none"/>
<path d="M472.5 1318V1333.5M469 1318H476M469 1333.5H476" stroke="#5a88cc" stroke-width="1.1" fill="none"/>
<rect x="94.3" y="1417.7" width="8.4" height="8.4" fill="#4f504f" stroke="#2e2e2e" stroke-width="0.7" stroke-linejoin="round"/>
<circle cx="98.5" cy="1450.7" r="5.4" fill="#ef3f43" stroke="#e92a2e" stroke-width="0.7" stroke-linejoin="round"/>
<path d="M98.5 1438.7L105.25 1450.3L91.75 1450.3Z" fill="#3b6db5" stroke="#2f60ae" stroke-width="0.7" stroke-linejoin="round"/>
<path d="M91.75 1416.1L105.25 1416.1L98.5 1427.7Z" fill="#35ae6e" stroke="#27a460" stroke-width="0.7" stroke-linejoin="round"/>
<path d="M98.5 1342.75L105.35 1349.6L98.5 1356.45L91.65 1349.6Z" fill="#a17ab7" stroke="#9670b0" stroke-width="0.7" stroke-linejoin="round"/>
<rect x="141.05" y="1402.5" width="8.4" height="8.4" fill="#4f504f" stroke="#2e2e2e" stroke-width="0.7" stroke-linejoin="round"/>
<circle cx="145.25" cy="1349.4" r="5.4" fill="#ef3f43" stroke="#e92a2e" stroke-width="0.7" stroke-linejoin="round"/>
<path d="M145.25 1414.3L152 1425.9L138.5 1425.9Z" fill="#3b6db5" stroke="#2f60ae" stroke-width="0.7" stroke-linejoin="round"/>
<path d="M138.5 1413.8L152 1413.8L145.25 1425.4Z" fill="#35ae6e" stroke="#27a460" stroke-width="0.7" stroke-linejoin="round"/>
<path d="M145.25 1422.85L152.1 1429.7L145.25 1436.55L138.4 1429.7Z" fill="#a17ab7" stroke="#9670b0" stroke-width="0.7" stroke-linejoin="round"/>
<rect x="187.8" y="1323.8" width="8.4" height="8.4" fill="#4f504f" stroke="#2e2e2e" stroke-width="0.7" stroke-linejoin="round"/>
<circle cx="192" cy="1375.8" r="5.4" fill="#ef3f43" stroke="#e92a2e" stroke-width="0.7" stroke-linejoin="round"/>
<path d="M192 1354.4L198.75 1366L185.25 1366Z" fill="#3b6db5" stroke="#2f60ae" stroke-width="0.7" stroke-linejoin="round"/>
<path d="M185.25 1347.9L198.75 1347.9L192 1359.5Z" fill="#35ae6e" stroke="#27a460" stroke-width="0.7" stroke-linejoin="round"/>
<path d="M192 1380.35L198.85 1387.2L192 1394.05L185.15 1387.2Z" fill="#a17ab7" stroke="#9670b0" stroke-width="0.7" stroke-linejoin="round"/>
<rect x="234.55" y="1372.7" width="8.4" height="8.4" fill="#4f504f" stroke="#2e2e2e" stroke-width="0.7" stroke-linejoin="round"/>
<circle cx="238.75" cy="1387.9" r="5.4" fill="#ef3f43" stroke="#e92a2e" stroke-width="0.7" stroke-linejoin="round"/>
<path d="M238.75 1370.7L245.5 1382.3L232 1382.3Z" fill="#3b6db5" stroke="#2f60ae" stroke-width="0.7" stroke-linejoin="round"/>
<path d="M232 1359.3L245.5 1359.3L238.75 1370.9Z" fill="#35ae6e" stroke="#27a460" stroke-width="0.7" stroke-linejoin="round"/>
<path d="M238.75 1385.75L245.6 1392.6L238.75 1399.45L231.9 1392.6Z" fill="#a17ab7" stroke="#9670b0" stroke-width="0.7" stroke-linejoin="round"/>
<rect x="281.3" y="1388.6" width="8.4" height="8.4" fill="#4f504f" stroke="#2e2e2e" stroke-width="0.7" stroke-linejoin="round"/>
<circle cx="285.5" cy="1386.3" r="5.4" fill="#ef3f43" stroke="#e92a2e" stroke-width="0.7" stroke-linejoin="round"/>
<path d="M285.5 1395.3L292.25 1406.9L278.75 1406.9Z" fill="#3b6db5" stroke="#2f60ae" stroke-width="0.7" stroke-linejoin="round"/>
<path d="M278.75 1325.3L292.25 1325.3L285.5 1336.9Z" fill="#35ae6e" stroke="#27a460" stroke-width="0.7" stroke-linejoin="round"/>
<path d="M285.5 1406.75L292.35 1413.6L285.5 1420.45L278.65 1413.6Z" fill="#a17ab7" stroke="#9670b0" stroke-width="0.7" stroke-linejoin="round"/>
<rect x="328.05" y="1210.2" width="8.4" height="8.4" fill="#4f504f" stroke="#2e2e2e" stroke-width="0.7" stroke-linejoin="round"/>
<circle cx="332.25" cy="1283.5" r="5.4" fill="#ef3f43" stroke="#e92a2e" stroke-width="0.7" stroke-linejoin="round"/>
<path d="M332.25 1224.9L339 1236.5L325.5 1236.5Z" fill="#3b6db5" stroke="#2f60ae" stroke-width="0.7" stroke-linejoin="round"/>
<path d="M325.5 1161.6L339 1161.6L332.25 1173.2Z" fill="#35ae6e" stroke="#27a460" stroke-width="0.7" stroke-linejoin="round"/>
<path d="M332.25 1301.25L339.1 1308.1L332.25 1314.95L325.4 1308.1Z" fill="#a17ab7" stroke="#9670b0" stroke-width="0.7" stroke-linejoin="round"/>
<rect x="374.8" y="1359.8" width="8.4" height="8.4" fill="#4f504f" stroke="#2e2e2e" stroke-width="0.7" stroke-linejoin="round"/>
<circle cx="379" cy="1337.6" r="5.4" fill="#ef3f43" stroke="#e92a2e" stroke-width="0.7" stroke-linejoin="round"/>
<path d="M379 1434.2L385.75 1445.8L372.25 1445.8Z" fill="#3b6db5" stroke="#2f60ae" stroke-width="0.7" stroke-linejoin="round"/>
<path d="M372.25 1400.4L385.75 1400.4L379 1412Z" fill="#35ae6e" stroke="#27a460" stroke-width="0.7" stroke-linejoin="round"/>
<path d="M379 1398.25L385.85 1405.1L379 1411.95L372.15 1405.1Z" fill="#a17ab7" stroke="#9670b0" stroke-width="0.7" stroke-linejoin="round"/>
<rect x="421.55" y="1337.8" width="8.4" height="8.4" fill="#4f504f" stroke="#2e2e2e" stroke-width="0.7" stroke-linejoin="round"/>
<circle cx="425.75" cy="1341.4" r="5.4" fill="#ef3f43" stroke="#e92a2e" stroke-width="0.7" stroke-linejoin="round"/>
<path d="M425.75 1338.9L432.5 1350.5L419 1350.5Z" fill="#3b6db5" stroke="#2f60ae" stroke-width="0.7" stroke-linejoin="round"/>
<path d="M419 1333.3L432.5 1333.3L425.75 1344.9Z" fill="#35ae6e" stroke="#27a460" stroke-width="0.7" stroke-linejoin="round"/>
<path d="M425.75 1321.15L432.6 1328L425.75 1334.85L418.9 1328Z" fill="#a17ab7" stroke="#9670b0" stroke-width="0.7" stroke-linejoin="round"/>
<rect x="468.3" y="1394.4" width="8.4" height="8.4" fill="#4f504f" stroke="#2e2e2e" stroke-width="0.7" stroke-linejoin="round"/>
<circle cx="472.5" cy="1317" r="5.4" fill="#ef3f43" stroke="#e92a2e" stroke-width="0.7" stroke-linejoin="round"/>
<path d="M472.5 1320.2L479.25 1331.8L465.75 1331.8Z" fill="#3b6db5" stroke="#2f60ae" stroke-width="0.7" stroke-linejoin="round"/>
<path d="M465.75 1392.2L479.25 1392.2L472.5 1403.8Z" fill="#35ae6e" stroke="#27a460" stroke-width="0.7" stroke-linejoin="round"/>
<path d="M472.5 1396.65L479.35 1403.5L472.5 1410.35L465.65 1403.5Z" fill="#a17ab7" stroke="#9670b0" stroke-width="0.7" stroke-linejoin="round"/>
<rect x="75" y="1131.7" width="420.8" height="333.3" fill="none" stroke="#111" stroke-width="2"/>
<path d="M98.5 1466V1472M145.25 1466V1472M192 1466V1472M238.75 1466V1472M285.5 1466V1472M332.25 1466V1472M379 1466V1472M425.75 1466V1472M472.5 1466V1472M67.5 1465H74M67.5 1385H74M67.5 1304.7H74M67.5 1224.2H74" stroke="#111" stroke-width="1.8" fill="none"/>
<path d="M67.5 1144.1H74" stroke="#777" stroke-width="1.1" fill="none"/>
<text class="t" transform="translate(62.7 1471) scale(1.06 1)" text-anchor="end">0</text>
<text class="t" transform="translate(62.7 1391) scale(1.06 1)" text-anchor="end">30</text>
<text class="t" transform="translate(62.7 1310.7) scale(1.06 1)" text-anchor="end">60</text>
<text class="t" transform="translate(62.7 1230.2) scale(1.06 1)" text-anchor="end">90</text>
<text class="t" style="font-size:18.6px" transform="translate(62.7 1149.3) scale(1.06 1)" text-anchor="end">120</text>
<text class="tb" font-size="24" text-anchor="middle" transform="translate(22.6 1298.5) rotate(-90) scale(1 1.13)" x="0" y="0" textLength="166.9" lengthAdjust="spacingAndGlyphs"><tspan>DON </tspan><tspan font-weight="normal">(</tspan><tspan>μmol L</tspan><tspan font-size="14.5" dy="-10.2">-1</tspan><tspan font-weight="normal" dy="10.2">)</tspan></text>
<text class="pl" x="12.5" y="1125.3">J</text>
<path d="M596.1 1326.8V1342.5M592.6 1326.8H599.6M592.6 1342.5H599.6" stroke="#ad88c4" stroke-width="1.1" fill="none"/>
<path d="M642.6 1407.3V1420.8M639.1 1407.3H646.1M639.1 1420.8H646.1" stroke="#555555" stroke-width="1.1" fill="none"/>
<path d="M689.1 1408.5V1425M685.6 1408.5H692.6M685.6 1425H692.6" stroke="#4dbb80" stroke-width="1.1" fill="none"/>
<path d="M689.1 1435V1447.6M685.6 1435H692.6M685.6 1447.6H692.6" stroke="#555555" stroke-width="1.1" fill="none"/>
<path d="M735.6 1364.4V1385M732.1 1364.4H739.1M732.1 1385H739.1" stroke="#555555" stroke-width="1.1" fill="none"/>
<path d="M828.6 1257.5V1277.6M825.1 1257.5H832.1M825.1 1277.6H832.1" stroke="#5a88cc" stroke-width="1.1" fill="none"/>
<path d="M828.6 1291V1310M825.1 1291H832.1M825.1 1310H832.1" stroke="#4dbb80" stroke-width="1.1" fill="none"/>
<path d="M875.1 1217.3V1230.7M871.6 1217.3H878.6M871.6 1230.7H878.6" stroke="#ef5a5e" stroke-width="1.1" fill="none"/>
<path d="M875.1 1297.3V1330.9M871.6 1297.3H878.6M871.6 1330.9H878.6" stroke="#555555" stroke-width="1.1" fill="none"/>
<path d="M875.1 1362.6V1379.4M871.6 1362.6H878.6M871.6 1379.4H878.6" stroke="#4dbb80" stroke-width="1.1" fill="none"/>
<path d="M968.1 1156.9V1178.6M964.6 1156.9H971.6M964.6 1178.6H971.6" stroke="#5a88cc" stroke-width="1.1" fill="none"/>
<path d="M968.1 1392.4V1407.3M964.6 1392.4H971.6M964.6 1407.3H971.6" stroke="#ef5a5e" stroke-width="1.1" fill="none"/>
<rect x="591.9" y="1453.9" width="8.4" height="8.4" fill="#4f504f" stroke="#2e2e2e" stroke-width="0.7" stroke-linejoin="round"/>
<circle cx="596.1" cy="1461" r="5.4" fill="#ef3f43" stroke="#e92a2e" stroke-width="0.7" stroke-linejoin="round"/>
<path d="M596.1 1451.9L602.85 1463.5L589.35 1463.5Z" fill="#3b6db5" stroke="#2f60ae" stroke-width="0.7" stroke-linejoin="round"/>
<path d="M589.35 1436.2L602.85 1436.2L596.1 1447.8Z" fill="#35ae6e" stroke="#27a460" stroke-width="0.7" stroke-linejoin="round"/>
<path d="M596.1 1328.25L602.95 1335.1L596.1 1341.95L589.25 1335.1Z" fill="#a17ab7" stroke="#9670b0" stroke-width="0.7" stroke-linejoin="round"/>
<rect x="638.4" y="1409.8" width="8.4" height="8.4" fill="#4f504f" stroke="#2e2e2e" stroke-width="0.7" stroke-linejoin="round"/>
<circle cx="642.6" cy="1150.9" r="5.4" fill="#ef3f43" stroke="#e92a2e" stroke-width="0.7" stroke-linejoin="round"/>
<path d="M642.6 1437.8L649.35 1449.4L635.85 1449.4Z" fill="#3b6db5" stroke="#2f60ae" stroke-width="0.7" stroke-linejoin="round"/>
<path d="M635.85 1438.9L649.35 1438.9L642.6 1450.5Z" fill="#35ae6e" stroke="#27a460" stroke-width="0.7" stroke-linejoin="round"/>
<path d="M642.6 1448.55L649.45 1455.4L642.6 1462.25L635.75 1455.4Z" fill="#a17ab7" stroke="#9670b0" stroke-width="0.7" stroke-linejoin="round"/>
<rect x="684.9" y="1437.1" width="8.4" height="8.4" fill="#4f504f" stroke="#2e2e2e" stroke-width="0.7" stroke-linejoin="round"/>
<circle cx="689.1" cy="1419.6" r="5.4" fill="#ef3f43" stroke="#e92a2e" stroke-width="0.7" stroke-linejoin="round"/>
<path d="M689.1 1430.6L695.85 1442.2L682.35 1442.2Z" fill="#3b6db5" stroke="#2f60ae" stroke-width="0.7" stroke-linejoin="round"/>
<path d="M682.35 1412.1L695.85 1412.1L689.1 1423.7Z" fill="#35ae6e" stroke="#27a460" stroke-width="0.7" stroke-linejoin="round"/>
<path d="M689.1 1423.95L695.95 1430.8L689.1 1437.65L682.25 1430.8Z" fill="#a17ab7" stroke="#9670b0" stroke-width="0.7" stroke-linejoin="round"/>
<rect x="731.4" y="1371.8" width="8.4" height="8.4" fill="#4f504f" stroke="#2e2e2e" stroke-width="0.7" stroke-linejoin="round"/>
<circle cx="735.6" cy="1418.3" r="5.4" fill="#ef3f43" stroke="#e92a2e" stroke-width="0.7" stroke-linejoin="round"/>
<path d="M735.6 1382.8L742.35 1394.4L728.85 1394.4Z" fill="#3b6db5" stroke="#2f60ae" stroke-width="0.7" stroke-linejoin="round"/>
<path d="M728.85 1381.2L742.35 1381.2L735.6 1392.8Z" fill="#35ae6e" stroke="#27a460" stroke-width="0.7" stroke-linejoin="round"/>
<path d="M735.6 1418.35L742.45 1425.2L735.6 1432.05L728.75 1425.2Z" fill="#a17ab7" stroke="#9670b0" stroke-width="0.7" stroke-linejoin="round"/>
<rect x="777.9" y="1406" width="8.4" height="8.4" fill="#4f504f" stroke="#2e2e2e" stroke-width="0.7" stroke-linejoin="round"/>
<circle cx="782.1" cy="1450.3" r="5.4" fill="#ef3f43" stroke="#e92a2e" stroke-width="0.7" stroke-linejoin="round"/>
<path d="M782.1 1451.9L788.85 1463.5L775.35 1463.5Z" fill="#3b6db5" stroke="#2f60ae" stroke-width="0.7" stroke-linejoin="round"/>
<path d="M775.35 1449.6L788.85 1449.6L782.1 1461.2Z" fill="#35ae6e" stroke="#27a460" stroke-width="0.7" stroke-linejoin="round"/>
<path d="M782.1 1452.55L788.95 1459.4L782.1 1466.25L775.25 1459.4Z" fill="#a17ab7" stroke="#9670b0" stroke-width="0.7" stroke-linejoin="round"/>
<rect x="824.4" y="1280.4" width="8.4" height="8.4" fill="#4f504f" stroke="#2e2e2e" stroke-width="0.7" stroke-linejoin="round"/>
<circle cx="828.6" cy="1419.6" r="5.4" fill="#ef3f43" stroke="#e92a2e" stroke-width="0.7" stroke-linejoin="round"/>
<path d="M828.6 1263.3L835.35 1274.9L821.85 1274.9Z" fill="#3b6db5" stroke="#2f60ae" stroke-width="0.7" stroke-linejoin="round"/>
<path d="M821.85 1298L835.35 1298L828.6 1309.6Z" fill="#35ae6e" stroke="#27a460" stroke-width="0.7" stroke-linejoin="round"/>
<path d="M828.6 1352.65L835.45 1359.5L828.6 1366.35L821.75 1359.5Z" fill="#a17ab7" stroke="#9670b0" stroke-width="0.7" stroke-linejoin="round"/>
<rect x="870.9" y="1309.9" width="8.4" height="8.4" fill="#4f504f" stroke="#2e2e2e" stroke-width="0.7" stroke-linejoin="round"/>
<circle cx="875.1" cy="1223.3" r="5.4" fill="#ef3f43" stroke="#e92a2e" stroke-width="0.7" stroke-linejoin="round"/>
<path d="M875.1 1397.1L881.85 1408.7L868.35 1408.7Z" fill="#3b6db5" stroke="#2f60ae" stroke-width="0.7" stroke-linejoin="round"/>
<path d="M868.35 1367.3L881.85 1367.3L875.1 1378.9Z" fill="#35ae6e" stroke="#27a460" stroke-width="0.7" stroke-linejoin="round"/>
<path d="M875.1 1342.55L881.95 1349.4L875.1 1356.25L868.25 1349.4Z" fill="#a17ab7" stroke="#9670b0" stroke-width="0.7" stroke-linejoin="round"/>
<rect x="917.4" y="1415" width="8.4" height="8.4" fill="#4f504f" stroke="#2e2e2e" stroke-width="0.7" stroke-linejoin="round"/>
<circle cx="921.6" cy="1435.7" r="5.4" fill="#ef3f43" stroke="#e92a2e" stroke-width="0.7" stroke-linejoin="round"/>
<path d="M921.6 1442.9L928.35 1454.5L914.85 1454.5Z" fill="#3b6db5" stroke="#2f60ae" stroke-width="0.7" stroke-linejoin="round"/>
<path d="M914.85 1448.5L928.35 1448.5L921.6 1460.1Z" fill="#35ae6e" stroke="#27a460" stroke-width="0.7" stroke-linejoin="round"/>
<path d="M921.6 1446.35L928.45 1453.2L921.6 1460.05L914.75 1453.2Z" fill="#a17ab7" stroke="#9670b0" stroke-width="0.7" stroke-linejoin="round"/>
<rect x="963.9" y="1453.5" width="8.4" height="8.4" fill="#4f504f" stroke="#2e2e2e" stroke-width="0.7" stroke-linejoin="round"/>
<circle cx="968.1" cy="1399.5" r="5.4" fill="#ef3f43" stroke="#e92a2e" stroke-width="0.7" stroke-linejoin="round"/>
<path d="M968.1 1161.4L974.85 1173L961.35 1173Z" fill="#3b6db5" stroke="#2f60ae" stroke-width="0.7" stroke-linejoin="round"/>
<path d="M961.35 1438.9L974.85 1438.9L968.1 1450.5Z" fill="#35ae6e" stroke="#27a460" stroke-width="0.7" stroke-linejoin="round"/>
<path d="M968.1 1439.15L974.95 1446L968.1 1452.85L961.25 1446Z" fill="#a17ab7" stroke="#9670b0" stroke-width="0.7" stroke-linejoin="round"/>
<rect x="572.8" y="1131.7" width="418.1" height="333.3" fill="none" stroke="#111" stroke-width="2"/>
<path d="M596.1 1466V1472M642.6 1466V1472M689.1 1466V1472M735.6 1466V1472M782.1 1466V1472M828.6 1466V1472M875.1 1466V1472M921.6 1466V1472M968.1 1466V1472M565.3 1465H571.8M565.3 1362.2H571.8M565.3 1258.6H571.8M565.3 1155.3H571.8" stroke="#111" stroke-width="1.8" fill="none"/>
<text class="t" transform="translate(560.5 1471) scale(1.06 1)" text-anchor="end">0</text>
<text class="t" transform="translate(560.5 1368.2) scale(1.06 1)" text-anchor="end">2</text>
<text class="t" transform="translate(560.5 1264.6) scale(1.06 1)" text-anchor="end">4</text>
<text class="t" transform="translate(560.5 1161.3) scale(1.06 1)" text-anchor="end">6</text>
<text class="tb" font-size="24" text-anchor="middle" transform="translate(540.4 1298) rotate(-90) scale(1 1.13)" x="0" y="0" textLength="164.7" lengthAdjust="spacingAndGlyphs"><tspan>DOP </tspan><tspan font-weight="normal">(</tspan><tspan>μmol L</tspan><tspan font-size="14.5" dy="-10.2">-1</tspan><tspan font-weight="normal" dy="10.2">)</tspan></text>
<text class="pl" x="519.8" y="1129.5">K</text>
<rect x="1065.7" y="546.5" width="5" height="4.5" fill="#fff"/>
<path d="M1060.7 549.5L1075.2 543.8M1060.7 555.5L1075.2 549.8" stroke="#111" stroke-width="2" fill="none"/>
<rect x="1486.7" y="546.5" width="5" height="4.5" fill="#fff"/>
<path d="M1481.7 549.5L1496.2 543.8M1481.7 555.5L1496.2 549.8" stroke="#111" stroke-width="2" fill="none"/>
<text class="tb" font-size="20.5" text-anchor="end" transform="translate(105.8 1476) rotate(-90)">Dec-18</text>
<text class="tb" font-size="20.5" text-anchor="end" transform="translate(152.55 1476) rotate(-90)">Feb-19</text>
<text class="tb" font-size="20.5" text-anchor="end" transform="translate(199.3 1476) rotate(-90)">Apr-19</text>
<text class="tb" font-size="20.5" text-anchor="end" transform="translate(246.05 1476) rotate(-90)">Jun-19</text>
<text class="tb" font-size="20.5" text-anchor="end" transform="translate(292.8 1476) rotate(-90)">Jul-19</text>
<text class="tb" font-size="20.5" text-anchor="end" transform="translate(339.55 1476) rotate(-90)">Aug-19</text>
<text class="tb" font-size="20.5" text-anchor="end" transform="translate(386.3 1476) rotate(-90)">Sep-19</text>
<text class="tb" font-size="20.5" text-anchor="end" transform="translate(433.05 1476) rotate(-90)">Oct-19</text>
<text class="tb" font-size="20.5" text-anchor="end" transform="translate(479.8 1476) rotate(-90)">Dec-19</text>
<text class="tb" font-size="24" text-anchor="middle" transform="translate(284.6 1564) scale(1 1.1)">Month</text>
<text class="tb" font-size="20.5" text-anchor="end" transform="translate(603.4 1476) rotate(-90)">Dec-18</text>
<text class="tb" font-size="20.5" text-anchor="end" transform="translate(649.9 1476) rotate(-90)">Feb-19</text>
<text class="tb" font-size="20.5" text-anchor="end" transform="translate(696.4 1476) rotate(-90)">Apr-19</text>
<text class="tb" font-size="20.5" text-anchor="end" transform="translate(742.9 1476) rotate(-90)">Jun-19</text>
<text class="tb" font-size="20.5" text-anchor="end" transform="translate(789.4 1476) rotate(-90)">Jul-19</text>
<text class="tb" font-size="20.5" text-anchor="end" transform="translate(835.9 1476) rotate(-90)">Aug-19</text>
<text class="tb" font-size="20.5" text-anchor="end" transform="translate(882.4 1476) rotate(-90)">Sep-19</text>
<text class="tb" font-size="20.5" text-anchor="end" transform="translate(928.9 1476) rotate(-90)">Oct-19</text>
<text class="tb" font-size="20.5" text-anchor="end" transform="translate(975.4 1476) rotate(-90)">Dec-19</text>
<text class="tb" font-size="24" text-anchor="middle" transform="translate(782 1564) scale(1 1.1)">Month</text>
<text class="tb" font-size="20.5" text-anchor="end" transform="translate(1100.5 1107.9) rotate(-90)">Dec-18</text>
<text class="tb" font-size="20.5" text-anchor="end" transform="translate(1147.21 1107.9) rotate(-90)">Feb-19</text>
<text class="tb" font-size="20.5" text-anchor="end" transform="translate(1193.92 1107.9) rotate(-90)">Apr-19</text>
<text class="tb" font-size="20.5" text-anchor="end" transform="translate(1240.63 1107.9) rotate(-90)">Jun-19</text>
<text class="tb" font-size="20.5" text-anchor="end" transform="translate(1287.34 1107.9) rotate(-90)">Jul-19</text>
<text class="tb" font-size="20.5" text-anchor="end" transform="translate(1334.05 1107.9) rotate(-90)">Aug-19</text>
<text class="tb" font-size="20.5" text-anchor="end" transform="translate(1380.76 1107.9) rotate(-90)">Sep-19</text>
<text class="tb" font-size="20.5" text-anchor="end" transform="translate(1427.47 1107.9) rotate(-90)">Oct-19</text>
<text class="tb" font-size="20.5" text-anchor="end" transform="translate(1474.18 1107.9) rotate(-90)">Dec-19</text>
<text class="tb" font-size="24" text-anchor="middle" transform="translate(1277.2 1191.5) scale(1 1.1)">Month</text>
<rect x="1412.8" y="34.4" width="76.6" height="159.7" rx="1.5" fill="#fff" stroke="#858585" stroke-width="1.2"/>
<path d="M1198 34.2H1490.2" stroke="#111" stroke-width="2.1"/>
<text class="t" style="font-size:20.6px" x="1427.4" y="56.6">Station</text>
<rect x="1436.37" y="71.37" width="7.85" height="7.85" fill="#4f504f" stroke="#2e2e2e" stroke-width="0.7" stroke-linejoin="round"/>
<text class="t" x="1476" y="82.3" text-anchor="middle">A</text>
<circle cx="1440.3" cy="101.5" r="5.05" fill="#ef3f43" stroke="#e92a2e" stroke-width="0.7" stroke-linejoin="round"/>
<text class="t" x="1476" y="108.5" text-anchor="middle">B</text>
<path d="M1440.3 120.05L1446.64 130.95L1433.95 130.95Z" fill="#3b6db5" stroke="#2f60ae" stroke-width="0.7" stroke-linejoin="round"/>
<text class="t" x="1476" y="132.5" text-anchor="middle">C</text>
<path d="M1433.95 149.85L1446.64 149.85L1440.3 160.75Z" fill="#35ae6e" stroke="#27a460" stroke-width="0.7" stroke-linejoin="round"/>
<text class="t" x="1476" y="162.3" text-anchor="middle">D</text>
<path d="M1440.3 173.26L1446.74 179.7L1440.3 186.14L1433.86 179.7Z" fill="#a17ab7" stroke="#9670b0" stroke-width="0.7" stroke-linejoin="round"/>
<text class="t" x="1476" y="186.7" text-anchor="middle">E</text>
</svg></body></html>
